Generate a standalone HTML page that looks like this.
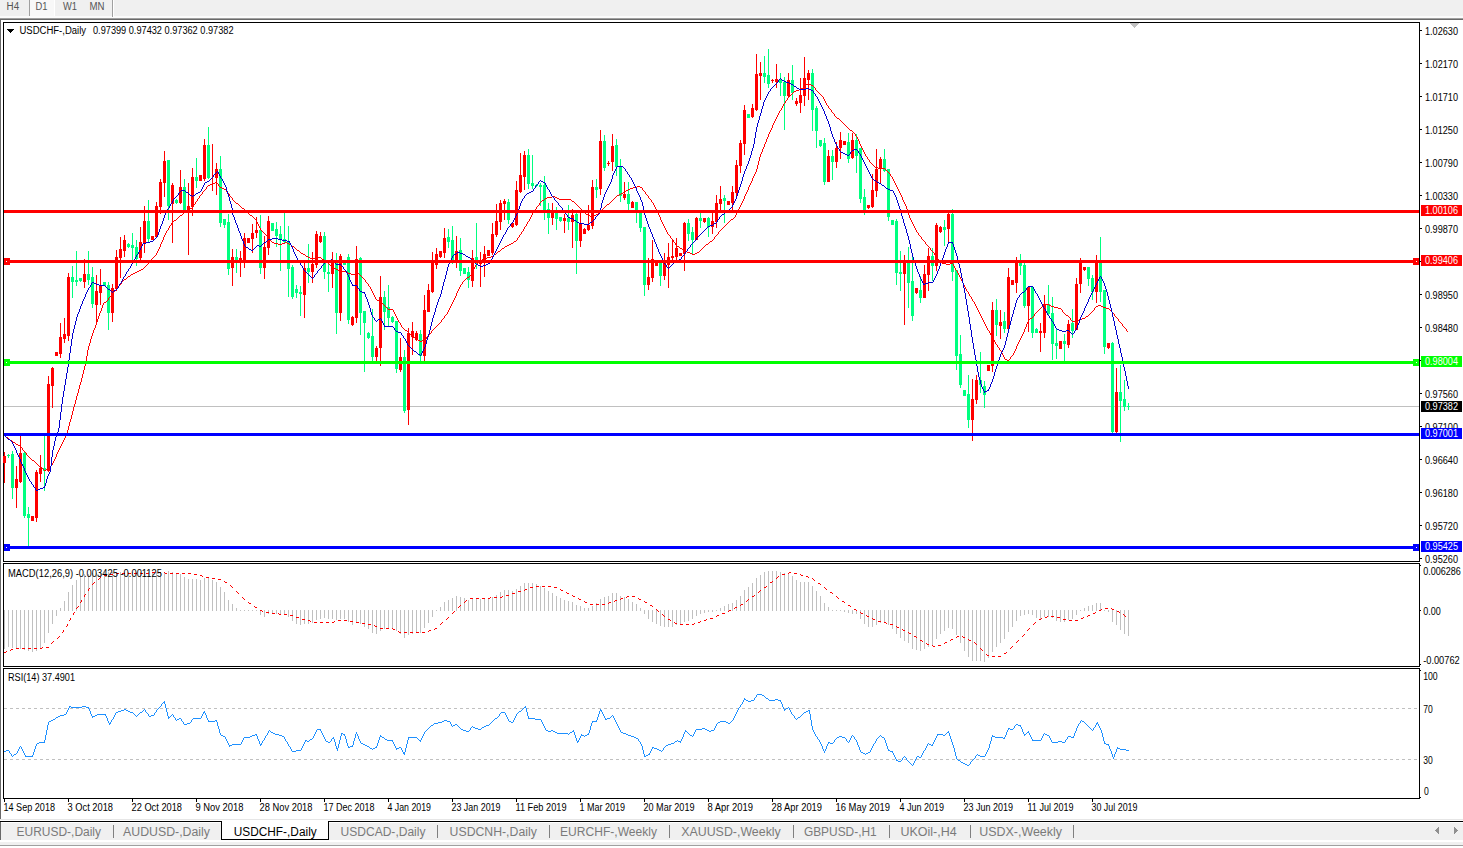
<!DOCTYPE html>
<html><head><meta charset="utf-8"><title>USDCHF-,Daily</title>
<style>
html,body{margin:0;padding:0;background:#fff;overflow:hidden}
body{width:1463px;height:848px;font-family:"Liberation Sans",sans-serif}
svg{display:block}
svg text{font-family:"Liberation Sans",sans-serif;white-space:pre}
.ce{shape-rendering:crispEdges}
</style></head><body>
<svg width="1463" height="848" viewBox="0 0 1463 848" shape-rendering="crispEdges">
<rect x="0" y="0" width="1463" height="848" fill="#fff"/>
<rect x="0" y="0" width="1463" height="16" fill="#f0f0f0"/>
<rect x="0" y="16" width="1463" height="2" fill="#fbfbfb"/>
<rect x="0" y="18" width="1463" height="1" fill="#a0a0a0"/>
<rect x="0" y="19" width="1463" height="1" fill="#696969"/>
<rect x="29" y="0" width="1" height="16" fill="#a0a0a0"/>
<rect x="30" y="0" width="24" height="16" fill="#f8f8f8"/>
<rect x="54" y="0" width="1" height="16" fill="#ffffff"/>
<rect x="112" y="0" width="1" height="17" fill="#a0a0a0"/>
<rect x="113" y="0" width="1" height="17" fill="#ffffff"/>
<text x="6.6" y="10" font-size="10" fill="#555" textLength="12.6" lengthAdjust="spacingAndGlyphs">H4</text>
<text x="35.5" y="10" font-size="10" fill="#555" textLength="12" lengthAdjust="spacingAndGlyphs">D1</text>
<text x="63" y="10" font-size="10" fill="#555" textLength="14" lengthAdjust="spacingAndGlyphs">W1</text>
<text x="89.5" y="10" font-size="10" fill="#555" textLength="15" lengthAdjust="spacingAndGlyphs">MN</text>
<rect x="0" y="19" width="1" height="800" fill="#696969"/>
<rect x="3" y="22" width="1417" height="1" fill="#000"/>
<rect x="3" y="561" width="1417" height="1" fill="#000"/>
<rect x="3" y="22" width="1" height="540" fill="#000"/>
<rect x="1419" y="22" width="1" height="540" fill="#000"/>
<rect x="3" y="563" width="1417" height="1" fill="#000"/>
<rect x="3" y="666" width="1417" height="1" fill="#000"/>
<rect x="3" y="563" width="1" height="104" fill="#000"/>
<rect x="1419" y="563" width="1" height="104" fill="#000"/>
<rect x="3" y="668" width="1417" height="1" fill="#000"/>
<rect x="3" y="798" width="1417" height="1" fill="#000"/>
<rect x="3" y="668" width="1" height="131" fill="#000"/>
<rect x="1419" y="668" width="1" height="131" fill="#000"/>
<rect x="1420" y="30" width="2" height="1" fill="#000"/>
<text x="1425" y="34.5" font-size="10" fill="#000" textLength="33" lengthAdjust="spacingAndGlyphs">1.02630</text>
<rect x="1420" y="63" width="2" height="1" fill="#000"/>
<text x="1425" y="67.5" font-size="10" fill="#000" textLength="33" lengthAdjust="spacingAndGlyphs">1.02170</text>
<rect x="1420" y="96" width="2" height="1" fill="#000"/>
<text x="1425" y="100.5" font-size="10" fill="#000" textLength="33" lengthAdjust="spacingAndGlyphs">1.01710</text>
<rect x="1420" y="129" width="2" height="1" fill="#000"/>
<text x="1425" y="133.5" font-size="10" fill="#000" textLength="33" lengthAdjust="spacingAndGlyphs">1.01250</text>
<rect x="1420" y="162" width="2" height="1" fill="#000"/>
<text x="1425" y="166.5" font-size="10" fill="#000" textLength="33" lengthAdjust="spacingAndGlyphs">1.00790</text>
<rect x="1420" y="195" width="2" height="1" fill="#000"/>
<text x="1425" y="199.5" font-size="10" fill="#000" textLength="33" lengthAdjust="spacingAndGlyphs">1.00330</text>
<rect x="1420" y="228" width="2" height="1" fill="#000"/>
<text x="1425" y="232.5" font-size="10" fill="#000" textLength="33" lengthAdjust="spacingAndGlyphs">0.99870</text>
<rect x="1420" y="261" width="2" height="1" fill="#000"/>
<text x="1425" y="265.5" font-size="10" fill="#000" textLength="33" lengthAdjust="spacingAndGlyphs">0.99410</text>
<rect x="1420" y="294" width="2" height="1" fill="#000"/>
<text x="1425" y="298.5" font-size="10" fill="#000" textLength="33" lengthAdjust="spacingAndGlyphs">0.98950</text>
<rect x="1420" y="327" width="2" height="1" fill="#000"/>
<text x="1425" y="331.5" font-size="10" fill="#000" textLength="33" lengthAdjust="spacingAndGlyphs">0.98480</text>
<rect x="1420" y="360" width="2" height="1" fill="#000"/>
<text x="1425" y="364.5" font-size="10" fill="#000" textLength="33" lengthAdjust="spacingAndGlyphs">0.98020</text>
<rect x="1420" y="393" width="2" height="1" fill="#000"/>
<text x="1425" y="397.5" font-size="10" fill="#000" textLength="33" lengthAdjust="spacingAndGlyphs">0.97560</text>
<rect x="1420" y="426" width="2" height="1" fill="#000"/>
<text x="1425" y="430.5" font-size="10" fill="#000" textLength="33" lengthAdjust="spacingAndGlyphs">0.97100</text>
<rect x="1420" y="459" width="2" height="1" fill="#000"/>
<text x="1425" y="463.5" font-size="10" fill="#000" textLength="33" lengthAdjust="spacingAndGlyphs">0.96640</text>
<rect x="1420" y="492" width="2" height="1" fill="#000"/>
<text x="1425" y="496.5" font-size="10" fill="#000" textLength="33" lengthAdjust="spacingAndGlyphs">0.96180</text>
<rect x="1420" y="525" width="2" height="1" fill="#000"/>
<text x="1425" y="529.5" font-size="10" fill="#000" textLength="33" lengthAdjust="spacingAndGlyphs">0.95720</text>
<rect x="1420" y="558" width="2" height="1" fill="#000"/>
<text x="1425" y="562.5" font-size="10" fill="#000" textLength="33" lengthAdjust="spacingAndGlyphs">0.95260</text>
<g id="main">
<rect x="4" y="406" width="1415" height="1" fill="#c0c0c0"/>
<rect x="4" y="452" width="1" height="31" fill="#ff0000"/>
<rect x="3" y="456" width="3" height="7" fill="#ff0000"/>
<rect x="8" y="454" width="1" height="4" fill="#00ff80"/>
<rect x="7" y="455" width="3" height="1" fill="#00ff80"/>
<rect x="12" y="451" width="1" height="48" fill="#00ff80"/>
<rect x="11" y="454" width="3" height="34" fill="#00ff80"/>
<rect x="16" y="466" width="1" height="42" fill="#ff0000"/>
<rect x="15" y="479" width="3" height="9" fill="#ff0000"/>
<rect x="20" y="435" width="1" height="48" fill="#ff0000"/>
<rect x="19" y="453" width="3" height="29" fill="#ff0000"/>
<rect x="24" y="452" width="1" height="66" fill="#00ff80"/>
<rect x="23" y="453" width="3" height="63" fill="#00ff80"/>
<rect x="28" y="507" width="1" height="40" fill="#00ff80"/>
<rect x="27" y="514" width="3" height="4" fill="#00ff80"/>
<rect x="32" y="516" width="1" height="5" fill="#ff0000"/>
<rect x="31" y="516" width="3" height="5" fill="#ff0000"/>
<rect x="36" y="470" width="1" height="52" fill="#ff0000"/>
<rect x="35" y="472" width="3" height="46" fill="#ff0000"/>
<rect x="40" y="455" width="1" height="27" fill="#ff0000"/>
<rect x="39" y="468" width="3" height="6" fill="#ff0000"/>
<rect x="44" y="436" width="1" height="55" fill="#00ff80"/>
<rect x="43" y="468" width="3" height="3" fill="#00ff80"/>
<rect x="48" y="376" width="1" height="96" fill="#ff0000"/>
<rect x="47" y="384" width="3" height="87" fill="#ff0000"/>
<rect x="52" y="367" width="1" height="41" fill="#ff0000"/>
<rect x="51" y="368" width="3" height="18" fill="#ff0000"/>
<rect x="56" y="352" width="1" height="4" fill="#ff0000"/>
<rect x="55" y="352" width="3" height="4" fill="#ff0000"/>
<rect x="60" y="323" width="1" height="35" fill="#ff0000"/>
<rect x="59" y="337" width="3" height="17" fill="#ff0000"/>
<rect x="64" y="318" width="1" height="25" fill="#ff0000"/>
<rect x="63" y="334" width="3" height="5" fill="#ff0000"/>
<rect x="68" y="273" width="1" height="68" fill="#ff0000"/>
<rect x="67" y="277" width="3" height="59" fill="#ff0000"/>
<rect x="72" y="266" width="1" height="32" fill="#00ff80"/>
<rect x="71" y="277" width="3" height="5" fill="#00ff80"/>
<rect x="76" y="251" width="1" height="35" fill="#00ff80"/>
<rect x="75" y="280" width="3" height="2" fill="#00ff80"/>
<rect x="80" y="278" width="1" height="4" fill="#00ff80"/>
<rect x="79" y="278" width="3" height="3" fill="#00ff80"/>
<rect x="84" y="259" width="1" height="29" fill="#ff0000"/>
<rect x="83" y="274" width="3" height="8" fill="#ff0000"/>
<rect x="88" y="251" width="1" height="34" fill="#00ff80"/>
<rect x="87" y="274" width="3" height="6" fill="#00ff80"/>
<rect x="92" y="267" width="1" height="41" fill="#00ff80"/>
<rect x="91" y="277" width="3" height="27" fill="#00ff80"/>
<rect x="96" y="275" width="1" height="47" fill="#ff0000"/>
<rect x="95" y="291" width="3" height="14" fill="#ff0000"/>
<rect x="100" y="269" width="1" height="36" fill="#ff0000"/>
<rect x="99" y="286" width="3" height="7" fill="#ff0000"/>
<rect x="104" y="282" width="1" height="4" fill="#00ff80"/>
<rect x="103" y="282" width="3" height="4" fill="#00ff80"/>
<rect x="108" y="282" width="1" height="48" fill="#00ff80"/>
<rect x="107" y="285" width="3" height="28" fill="#00ff80"/>
<rect x="112" y="284" width="1" height="38" fill="#ff0000"/>
<rect x="111" y="288" width="3" height="25" fill="#ff0000"/>
<rect x="116" y="250" width="1" height="41" fill="#ff0000"/>
<rect x="115" y="257" width="3" height="32" fill="#ff0000"/>
<rect x="120" y="237" width="1" height="41" fill="#ff0000"/>
<rect x="119" y="249" width="3" height="9" fill="#ff0000"/>
<rect x="124" y="235" width="1" height="22" fill="#ff0000"/>
<rect x="123" y="240" width="3" height="11" fill="#ff0000"/>
<rect x="128" y="243" width="1" height="5" fill="#00ff80"/>
<rect x="127" y="244" width="3" height="3" fill="#00ff80"/>
<rect x="132" y="233" width="1" height="27" fill="#00ff80"/>
<rect x="131" y="245" width="3" height="3" fill="#00ff80"/>
<rect x="136" y="240" width="1" height="26" fill="#00ff80"/>
<rect x="135" y="247" width="3" height="12" fill="#00ff80"/>
<rect x="140" y="227" width="1" height="34" fill="#ff0000"/>
<rect x="139" y="242" width="3" height="16" fill="#ff0000"/>
<rect x="144" y="206" width="1" height="47" fill="#ff0000"/>
<rect x="143" y="221" width="3" height="22" fill="#ff0000"/>
<rect x="148" y="200" width="1" height="43" fill="#00ff80"/>
<rect x="147" y="221" width="3" height="18" fill="#00ff80"/>
<rect x="152" y="236" width="1" height="4" fill="#ff0000"/>
<rect x="151" y="236" width="3" height="4" fill="#ff0000"/>
<rect x="156" y="202" width="1" height="36" fill="#ff0000"/>
<rect x="155" y="206" width="3" height="31" fill="#ff0000"/>
<rect x="160" y="179" width="1" height="35" fill="#ff0000"/>
<rect x="159" y="182" width="3" height="25" fill="#ff0000"/>
<rect x="164" y="151" width="1" height="46" fill="#ff0000"/>
<rect x="163" y="161" width="3" height="22" fill="#ff0000"/>
<rect x="168" y="160" width="1" height="60" fill="#00ff80"/>
<rect x="167" y="160" width="3" height="46" fill="#00ff80"/>
<rect x="172" y="183" width="1" height="60" fill="#ff0000"/>
<rect x="171" y="185" width="3" height="19" fill="#ff0000"/>
<rect x="176" y="199" width="1" height="5" fill="#00ff80"/>
<rect x="175" y="200" width="3" height="3" fill="#00ff80"/>
<rect x="180" y="170" width="1" height="34" fill="#ff0000"/>
<rect x="179" y="187" width="3" height="16" fill="#ff0000"/>
<rect x="184" y="179" width="1" height="32" fill="#00ff80"/>
<rect x="183" y="187" width="3" height="24" fill="#00ff80"/>
<rect x="188" y="183" width="1" height="72" fill="#ff0000"/>
<rect x="187" y="206" width="3" height="5" fill="#ff0000"/>
<rect x="192" y="168" width="1" height="48" fill="#ff0000"/>
<rect x="191" y="177" width="3" height="30" fill="#ff0000"/>
<rect x="196" y="158" width="1" height="30" fill="#00ff80"/>
<rect x="195" y="177" width="3" height="4" fill="#00ff80"/>
<rect x="200" y="175" width="1" height="6" fill="#ff0000"/>
<rect x="199" y="175" width="3" height="6" fill="#ff0000"/>
<rect x="204" y="139" width="1" height="42" fill="#ff0000"/>
<rect x="203" y="145" width="3" height="34" fill="#ff0000"/>
<rect x="208" y="127" width="1" height="52" fill="#00ff80"/>
<rect x="207" y="145" width="3" height="33" fill="#00ff80"/>
<rect x="212" y="144" width="1" height="47" fill="#ff0000"/>
<rect x="216" y="163" width="1" height="32" fill="#ff0000"/>
<rect x="215" y="169" width="3" height="9" fill="#ff0000"/>
<rect x="220" y="156" width="1" height="71" fill="#00ff80"/>
<rect x="219" y="169" width="3" height="54" fill="#00ff80"/>
<rect x="224" y="219" width="1" height="9" fill="#00ff80"/>
<rect x="223" y="219" width="3" height="6" fill="#00ff80"/>
<rect x="228" y="214" width="1" height="61" fill="#00ff80"/>
<rect x="227" y="222" width="3" height="47" fill="#00ff80"/>
<rect x="232" y="249" width="1" height="37" fill="#ff0000"/>
<rect x="231" y="257" width="3" height="11" fill="#ff0000"/>
<rect x="236" y="249" width="1" height="24" fill="#00ff80"/>
<rect x="235" y="257" width="3" height="4" fill="#00ff80"/>
<rect x="240" y="251" width="1" height="26" fill="#ff0000"/>
<rect x="239" y="258" width="3" height="5" fill="#ff0000"/>
<rect x="244" y="233" width="1" height="35" fill="#ff0000"/>
<rect x="243" y="238" width="3" height="22" fill="#ff0000"/>
<rect x="248" y="238" width="1" height="5" fill="#ff0000"/>
<rect x="247" y="238" width="3" height="5" fill="#ff0000"/>
<rect x="252" y="224" width="1" height="29" fill="#ff0000"/>
<rect x="251" y="233" width="3" height="6" fill="#ff0000"/>
<rect x="256" y="217" width="1" height="21" fill="#ff0000"/>
<rect x="255" y="230" width="3" height="3" fill="#ff0000"/>
<rect x="260" y="215" width="1" height="59" fill="#00ff80"/>
<rect x="259" y="230" width="3" height="38" fill="#00ff80"/>
<rect x="264" y="236" width="1" height="43" fill="#ff0000"/>
<rect x="263" y="247" width="3" height="21" fill="#ff0000"/>
<rect x="268" y="216" width="1" height="39" fill="#ff0000"/>
<rect x="267" y="221" width="3" height="27" fill="#ff0000"/>
<rect x="272" y="223" width="1" height="8" fill="#00ff80"/>
<rect x="271" y="223" width="3" height="8" fill="#00ff80"/>
<rect x="276" y="222" width="1" height="25" fill="#00ff80"/>
<rect x="275" y="229" width="3" height="7" fill="#00ff80"/>
<rect x="280" y="226" width="1" height="45" fill="#00ff80"/>
<rect x="279" y="234" width="3" height="5" fill="#00ff80"/>
<rect x="284" y="213" width="1" height="30" fill="#00ff80"/>
<rect x="283" y="239" width="3" height="3" fill="#00ff80"/>
<rect x="288" y="226" width="1" height="71" fill="#00ff80"/>
<rect x="287" y="241" width="3" height="28" fill="#00ff80"/>
<rect x="292" y="265" width="1" height="34" fill="#00ff80"/>
<rect x="291" y="267" width="3" height="30" fill="#00ff80"/>
<rect x="296" y="285" width="1" height="13" fill="#00ff80"/>
<rect x="295" y="289" width="3" height="4" fill="#00ff80"/>
<rect x="300" y="286" width="1" height="30" fill="#00ff80"/>
<rect x="299" y="292" width="3" height="2" fill="#00ff80"/>
<rect x="304" y="262" width="1" height="56" fill="#ff0000"/>
<rect x="303" y="268" width="3" height="27" fill="#ff0000"/>
<rect x="308" y="244" width="1" height="39" fill="#00ff80"/>
<rect x="307" y="268" width="3" height="4" fill="#00ff80"/>
<rect x="312" y="252" width="1" height="31" fill="#ff0000"/>
<rect x="311" y="264" width="3" height="8" fill="#ff0000"/>
<rect x="316" y="231" width="1" height="37" fill="#ff0000"/>
<rect x="315" y="234" width="3" height="31" fill="#ff0000"/>
<rect x="320" y="232" width="1" height="11" fill="#ff0000"/>
<rect x="319" y="236" width="3" height="6" fill="#ff0000"/>
<rect x="324" y="232" width="1" height="47" fill="#00ff80"/>
<rect x="323" y="236" width="3" height="36" fill="#00ff80"/>
<rect x="328" y="264" width="1" height="28" fill="#00ff80"/>
<rect x="327" y="272" width="3" height="2" fill="#00ff80"/>
<rect x="332" y="252" width="1" height="36" fill="#ff0000"/>
<rect x="331" y="260" width="3" height="14" fill="#ff0000"/>
<rect x="336" y="253" width="1" height="81" fill="#00ff80"/>
<rect x="335" y="260" width="3" height="53" fill="#00ff80"/>
<rect x="340" y="254" width="1" height="67" fill="#ff0000"/>
<rect x="339" y="256" width="3" height="57" fill="#ff0000"/>
<rect x="344" y="262" width="1" height="3" fill="#00ff80"/>
<rect x="343" y="262" width="3" height="3" fill="#00ff80"/>
<rect x="348" y="254" width="1" height="70" fill="#00ff80"/>
<rect x="347" y="257" width="3" height="63" fill="#00ff80"/>
<rect x="352" y="316" width="1" height="10" fill="#ff0000"/>
<rect x="351" y="317" width="3" height="8" fill="#ff0000"/>
<rect x="356" y="246" width="1" height="77" fill="#ff0000"/>
<rect x="355" y="259" width="3" height="59" fill="#ff0000"/>
<rect x="360" y="257" width="1" height="78" fill="#00ff80"/>
<rect x="359" y="258" width="3" height="55" fill="#00ff80"/>
<rect x="364" y="311" width="1" height="61" fill="#00ff80"/>
<rect x="363" y="311" width="3" height="12" fill="#00ff80"/>
<rect x="368" y="332" width="1" height="7" fill="#00ff80"/>
<rect x="367" y="333" width="3" height="5" fill="#00ff80"/>
<rect x="372" y="309" width="1" height="52" fill="#00ff80"/>
<rect x="371" y="336" width="3" height="21" fill="#00ff80"/>
<rect x="376" y="346" width="1" height="15" fill="#ff0000"/>
<rect x="375" y="348" width="3" height="9" fill="#ff0000"/>
<rect x="380" y="276" width="1" height="90" fill="#ff0000"/>
<rect x="379" y="297" width="3" height="51" fill="#ff0000"/>
<rect x="384" y="291" width="1" height="39" fill="#00ff80"/>
<rect x="383" y="297" width="3" height="15" fill="#00ff80"/>
<rect x="388" y="285" width="1" height="41" fill="#00ff80"/>
<rect x="387" y="307" width="3" height="11" fill="#00ff80"/>
<rect x="392" y="316" width="1" height="7" fill="#00ff80"/>
<rect x="391" y="317" width="3" height="5" fill="#00ff80"/>
<rect x="396" y="321" width="1" height="52" fill="#00ff80"/>
<rect x="395" y="321" width="3" height="48" fill="#00ff80"/>
<rect x="400" y="338" width="1" height="34" fill="#ff0000"/>
<rect x="399" y="357" width="3" height="13" fill="#ff0000"/>
<rect x="404" y="350" width="1" height="63" fill="#00ff80"/>
<rect x="403" y="357" width="3" height="54" fill="#00ff80"/>
<rect x="408" y="328" width="1" height="97" fill="#ff0000"/>
<rect x="407" y="333" width="3" height="77" fill="#ff0000"/>
<rect x="412" y="322" width="1" height="33" fill="#ff0000"/>
<rect x="411" y="331" width="3" height="6" fill="#ff0000"/>
<rect x="416" y="331" width="1" height="10" fill="#ff0000"/>
<rect x="415" y="333" width="3" height="7" fill="#ff0000"/>
<rect x="420" y="330" width="1" height="32" fill="#00ff80"/>
<rect x="419" y="334" width="3" height="22" fill="#00ff80"/>
<rect x="424" y="295" width="1" height="67" fill="#ff0000"/>
<rect x="423" y="310" width="3" height="46" fill="#ff0000"/>
<rect x="428" y="284" width="1" height="28" fill="#ff0000"/>
<rect x="427" y="290" width="3" height="22" fill="#ff0000"/>
<rect x="432" y="252" width="1" height="41" fill="#ff0000"/>
<rect x="431" y="261" width="3" height="31" fill="#ff0000"/>
<rect x="436" y="248" width="1" height="21" fill="#ff0000"/>
<rect x="435" y="254" width="3" height="11" fill="#ff0000"/>
<rect x="440" y="251" width="1" height="7" fill="#ff0000"/>
<rect x="439" y="251" width="3" height="6" fill="#ff0000"/>
<rect x="444" y="228" width="1" height="30" fill="#ff0000"/>
<rect x="443" y="238" width="3" height="15" fill="#ff0000"/>
<rect x="448" y="229" width="1" height="19" fill="#00ff80"/>
<rect x="447" y="237" width="3" height="5" fill="#00ff80"/>
<rect x="452" y="226" width="1" height="38" fill="#00ff80"/>
<rect x="451" y="240" width="3" height="23" fill="#00ff80"/>
<rect x="456" y="236" width="1" height="32" fill="#ff0000"/>
<rect x="455" y="251" width="3" height="12" fill="#ff0000"/>
<rect x="460" y="238" width="1" height="38" fill="#00ff80"/>
<rect x="459" y="250" width="3" height="21" fill="#00ff80"/>
<rect x="464" y="268" width="1" height="6" fill="#00ff80"/>
<rect x="463" y="268" width="3" height="6" fill="#00ff80"/>
<rect x="468" y="267" width="1" height="21" fill="#00ff80"/>
<rect x="467" y="272" width="3" height="8" fill="#00ff80"/>
<rect x="472" y="250" width="1" height="37" fill="#ff0000"/>
<rect x="471" y="258" width="3" height="23" fill="#ff0000"/>
<rect x="476" y="223" width="1" height="46" fill="#00ff80"/>
<rect x="475" y="257" width="3" height="5" fill="#00ff80"/>
<rect x="480" y="252" width="1" height="35" fill="#ff0000"/>
<rect x="479" y="260" width="3" height="4" fill="#ff0000"/>
<rect x="484" y="246" width="1" height="31" fill="#ff0000"/>
<rect x="483" y="254" width="3" height="9" fill="#ff0000"/>
<rect x="488" y="250" width="1" height="6" fill="#ff0000"/>
<rect x="487" y="250" width="3" height="6" fill="#ff0000"/>
<rect x="492" y="223" width="1" height="32" fill="#ff0000"/>
<rect x="491" y="234" width="3" height="19" fill="#ff0000"/>
<rect x="496" y="204" width="1" height="33" fill="#ff0000"/>
<rect x="495" y="221" width="3" height="14" fill="#ff0000"/>
<rect x="500" y="200" width="1" height="30" fill="#ff0000"/>
<rect x="499" y="203" width="3" height="19" fill="#ff0000"/>
<rect x="504" y="199" width="1" height="21" fill="#ff0000"/>
<rect x="503" y="201" width="3" height="3" fill="#ff0000"/>
<rect x="508" y="199" width="1" height="25" fill="#00ff80"/>
<rect x="507" y="202" width="3" height="18" fill="#00ff80"/>
<rect x="512" y="223" width="1" height="5" fill="#ff0000"/>
<rect x="511" y="223" width="3" height="4" fill="#ff0000"/>
<rect x="516" y="181" width="1" height="45" fill="#ff0000"/>
<rect x="515" y="190" width="3" height="35" fill="#ff0000"/>
<rect x="520" y="153" width="1" height="40" fill="#ff0000"/>
<rect x="519" y="175" width="3" height="17" fill="#ff0000"/>
<rect x="524" y="151" width="1" height="39" fill="#ff0000"/>
<rect x="523" y="155" width="3" height="22" fill="#ff0000"/>
<rect x="528" y="149" width="1" height="40" fill="#00ff80"/>
<rect x="527" y="155" width="3" height="29" fill="#00ff80"/>
<rect x="532" y="155" width="1" height="34" fill="#00ff80"/>
<rect x="531" y="183" width="3" height="3" fill="#00ff80"/>
<rect x="536" y="184" width="1" height="3" fill="#00ff80"/>
<rect x="535" y="185" width="3" height="1" fill="#00ff80"/>
<rect x="540" y="183" width="1" height="23" fill="#00ff80"/>
<rect x="539" y="185" width="3" height="2" fill="#00ff80"/>
<rect x="544" y="176" width="1" height="44" fill="#00ff80"/>
<rect x="543" y="185" width="3" height="26" fill="#00ff80"/>
<rect x="548" y="203" width="1" height="31" fill="#00ff80"/>
<rect x="547" y="209" width="3" height="9" fill="#00ff80"/>
<rect x="552" y="203" width="1" height="22" fill="#ff0000"/>
<rect x="551" y="213" width="3" height="5" fill="#ff0000"/>
<rect x="556" y="207" width="1" height="23" fill="#00ff80"/>
<rect x="555" y="213" width="3" height="6" fill="#00ff80"/>
<rect x="560" y="217" width="1" height="5" fill="#00ff80"/>
<rect x="559" y="217" width="3" height="4" fill="#00ff80"/>
<rect x="564" y="214" width="1" height="19" fill="#ff0000"/>
<rect x="563" y="218" width="3" height="3" fill="#ff0000"/>
<rect x="568" y="205" width="1" height="25" fill="#00ff80"/>
<rect x="567" y="218" width="3" height="4" fill="#00ff80"/>
<rect x="572" y="209" width="1" height="39" fill="#ff0000"/>
<rect x="571" y="215" width="3" height="7" fill="#ff0000"/>
<rect x="576" y="213" width="1" height="61" fill="#00ff80"/>
<rect x="575" y="214" width="3" height="27" fill="#00ff80"/>
<rect x="580" y="212" width="1" height="35" fill="#ff0000"/>
<rect x="579" y="223" width="3" height="18" fill="#ff0000"/>
<rect x="584" y="228" width="1" height="6" fill="#ff0000"/>
<rect x="583" y="229" width="3" height="5" fill="#ff0000"/>
<rect x="588" y="205" width="1" height="26" fill="#ff0000"/>
<rect x="587" y="225" width="3" height="5" fill="#ff0000"/>
<rect x="592" y="180" width="1" height="49" fill="#ff0000"/>
<rect x="591" y="187" width="3" height="39" fill="#ff0000"/>
<rect x="596" y="179" width="1" height="19" fill="#00ff80"/>
<rect x="595" y="187" width="3" height="3" fill="#00ff80"/>
<rect x="600" y="130" width="1" height="65" fill="#ff0000"/>
<rect x="599" y="141" width="3" height="48" fill="#ff0000"/>
<rect x="604" y="135" width="1" height="36" fill="#00ff80"/>
<rect x="603" y="141" width="3" height="27" fill="#00ff80"/>
<rect x="608" y="161" width="1" height="5" fill="#ff0000"/>
<rect x="607" y="163" width="3" height="1" fill="#ff0000"/>
<rect x="612" y="134" width="1" height="37" fill="#ff0000"/>
<rect x="611" y="146" width="3" height="16" fill="#ff0000"/>
<rect x="616" y="139" width="1" height="37" fill="#00ff80"/>
<rect x="615" y="145" width="3" height="22" fill="#00ff80"/>
<rect x="620" y="159" width="1" height="43" fill="#00ff80"/>
<rect x="619" y="166" width="3" height="30" fill="#00ff80"/>
<rect x="624" y="182" width="1" height="18" fill="#ff0000"/>
<rect x="623" y="194" width="3" height="4" fill="#ff0000"/>
<rect x="628" y="182" width="1" height="29" fill="#00ff80"/>
<rect x="627" y="194" width="3" height="10" fill="#00ff80"/>
<rect x="632" y="201" width="1" height="7" fill="#ff0000"/>
<rect x="631" y="202" width="3" height="6" fill="#ff0000"/>
<rect x="636" y="202" width="1" height="21" fill="#00ff80"/>
<rect x="635" y="202" width="3" height="9" fill="#00ff80"/>
<rect x="640" y="212" width="1" height="20" fill="#00ff80"/>
<rect x="639" y="212" width="3" height="16" fill="#00ff80"/>
<rect x="644" y="227" width="1" height="69" fill="#00ff80"/>
<rect x="643" y="227" width="3" height="58" fill="#00ff80"/>
<rect x="648" y="258" width="1" height="32" fill="#ff0000"/>
<rect x="647" y="277" width="3" height="8" fill="#ff0000"/>
<rect x="652" y="240" width="1" height="42" fill="#ff0000"/>
<rect x="651" y="259" width="3" height="19" fill="#ff0000"/>
<rect x="656" y="262" width="1" height="4" fill="#ff0000"/>
<rect x="655" y="262" width="3" height="4" fill="#ff0000"/>
<rect x="660" y="262" width="1" height="24" fill="#00ff80"/>
<rect x="659" y="262" width="3" height="14" fill="#00ff80"/>
<rect x="664" y="253" width="1" height="27" fill="#ff0000"/>
<rect x="663" y="263" width="3" height="13" fill="#ff0000"/>
<rect x="668" y="243" width="1" height="45" fill="#ff0000"/>
<rect x="667" y="257" width="3" height="8" fill="#ff0000"/>
<rect x="672" y="239" width="1" height="22" fill="#ff0000"/>
<rect x="671" y="256" width="3" height="2" fill="#ff0000"/>
<rect x="676" y="238" width="1" height="23" fill="#ff0000"/>
<rect x="675" y="248" width="3" height="9" fill="#ff0000"/>
<rect x="680" y="253" width="1" height="3" fill="#ff0000"/>
<rect x="679" y="253" width="3" height="3" fill="#ff0000"/>
<rect x="684" y="222" width="1" height="49" fill="#ff0000"/>
<rect x="683" y="223" width="3" height="31" fill="#ff0000"/>
<rect x="688" y="219" width="1" height="22" fill="#00ff80"/>
<rect x="687" y="223" width="3" height="11" fill="#00ff80"/>
<rect x="692" y="227" width="1" height="27" fill="#00ff80"/>
<rect x="691" y="232" width="3" height="8" fill="#00ff80"/>
<rect x="696" y="217" width="1" height="23" fill="#ff0000"/>
<rect x="695" y="218" width="3" height="22" fill="#ff0000"/>
<rect x="700" y="213" width="1" height="15" fill="#00ff80"/>
<rect x="699" y="218" width="3" height="3" fill="#00ff80"/>
<rect x="704" y="218" width="1" height="5" fill="#ff0000"/>
<rect x="703" y="218" width="3" height="4" fill="#ff0000"/>
<rect x="708" y="217" width="1" height="20" fill="#00ff80"/>
<rect x="707" y="218" width="3" height="9" fill="#00ff80"/>
<rect x="712" y="213" width="1" height="21" fill="#ff0000"/>
<rect x="711" y="221" width="3" height="6" fill="#ff0000"/>
<rect x="716" y="195" width="1" height="33" fill="#ff0000"/>
<rect x="715" y="203" width="3" height="19" fill="#ff0000"/>
<rect x="720" y="186" width="1" height="26" fill="#ff0000"/>
<rect x="719" y="199" width="3" height="5" fill="#ff0000"/>
<rect x="724" y="195" width="1" height="28" fill="#00ff80"/>
<rect x="723" y="198" width="3" height="3" fill="#00ff80"/>
<rect x="728" y="201" width="1" height="4" fill="#ff0000"/>
<rect x="727" y="201" width="3" height="4" fill="#ff0000"/>
<rect x="732" y="186" width="1" height="24" fill="#ff0000"/>
<rect x="731" y="192" width="3" height="11" fill="#ff0000"/>
<rect x="736" y="160" width="1" height="36" fill="#ff0000"/>
<rect x="735" y="165" width="3" height="28" fill="#ff0000"/>
<rect x="740" y="140" width="1" height="33" fill="#ff0000"/>
<rect x="739" y="143" width="3" height="23" fill="#ff0000"/>
<rect x="744" y="105" width="1" height="50" fill="#ff0000"/>
<rect x="743" y="110" width="3" height="34" fill="#ff0000"/>
<rect x="748" y="114" width="1" height="4" fill="#00ff80"/>
<rect x="747" y="114" width="3" height="4" fill="#00ff80"/>
<rect x="752" y="104" width="1" height="14" fill="#ff0000"/>
<rect x="751" y="108" width="3" height="9" fill="#ff0000"/>
<rect x="756" y="54" width="1" height="57" fill="#ff0000"/>
<rect x="755" y="74" width="3" height="36" fill="#ff0000"/>
<rect x="760" y="62" width="1" height="38" fill="#ff0000"/>
<rect x="759" y="73" width="3" height="3" fill="#ff0000"/>
<rect x="764" y="56" width="1" height="27" fill="#00ff80"/>
<rect x="763" y="73" width="3" height="4" fill="#00ff80"/>
<rect x="768" y="49" width="1" height="39" fill="#00ff80"/>
<rect x="767" y="75" width="3" height="9" fill="#00ff80"/>
<rect x="772" y="79" width="1" height="4" fill="#ff0000"/>
<rect x="771" y="80" width="3" height="1" fill="#ff0000"/>
<rect x="776" y="64" width="1" height="24" fill="#ff0000"/>
<rect x="775" y="79" width="3" height="3" fill="#ff0000"/>
<rect x="780" y="73" width="1" height="23" fill="#00ff80"/>
<rect x="779" y="79" width="3" height="4" fill="#00ff80"/>
<rect x="784" y="77" width="1" height="53" fill="#00ff80"/>
<rect x="783" y="82" width="3" height="14" fill="#00ff80"/>
<rect x="788" y="73" width="1" height="24" fill="#ff0000"/>
<rect x="787" y="80" width="3" height="16" fill="#ff0000"/>
<rect x="792" y="65" width="1" height="35" fill="#00ff80"/>
<rect x="791" y="80" width="3" height="13" fill="#00ff80"/>
<rect x="796" y="98" width="1" height="8" fill="#ff0000"/>
<rect x="795" y="101" width="3" height="3" fill="#ff0000"/>
<rect x="800" y="78" width="1" height="35" fill="#ff0000"/>
<rect x="799" y="95" width="3" height="8" fill="#ff0000"/>
<rect x="804" y="57" width="1" height="49" fill="#ff0000"/>
<rect x="803" y="78" width="3" height="18" fill="#ff0000"/>
<rect x="808" y="70" width="1" height="30" fill="#ff0000"/>
<rect x="807" y="73" width="3" height="7" fill="#ff0000"/>
<rect x="812" y="69" width="1" height="62" fill="#00ff80"/>
<rect x="811" y="73" width="3" height="37" fill="#00ff80"/>
<rect x="816" y="106" width="1" height="42" fill="#00ff80"/>
<rect x="815" y="108" width="3" height="23" fill="#00ff80"/>
<rect x="820" y="140" width="1" height="7" fill="#00ff80"/>
<rect x="819" y="140" width="3" height="6" fill="#00ff80"/>
<rect x="824" y="138" width="1" height="47" fill="#00ff80"/>
<rect x="823" y="143" width="3" height="39" fill="#00ff80"/>
<rect x="828" y="150" width="1" height="32" fill="#ff0000"/>
<rect x="827" y="156" width="3" height="26" fill="#ff0000"/>
<rect x="832" y="150" width="1" height="30" fill="#00ff80"/>
<rect x="831" y="156" width="3" height="6" fill="#00ff80"/>
<rect x="836" y="142" width="1" height="26" fill="#ff0000"/>
<rect x="835" y="148" width="3" height="14" fill="#ff0000"/>
<rect x="840" y="132" width="1" height="27" fill="#ff0000"/>
<rect x="839" y="140" width="3" height="8" fill="#ff0000"/>
<rect x="844" y="141" width="1" height="4" fill="#ff0000"/>
<rect x="843" y="141" width="3" height="4" fill="#ff0000"/>
<rect x="848" y="133" width="1" height="30" fill="#00ff80"/>
<rect x="847" y="142" width="3" height="17" fill="#00ff80"/>
<rect x="852" y="133" width="1" height="26" fill="#ff0000"/>
<rect x="851" y="140" width="3" height="18" fill="#ff0000"/>
<rect x="856" y="134" width="1" height="39" fill="#00ff80"/>
<rect x="855" y="140" width="3" height="16" fill="#00ff80"/>
<rect x="860" y="148" width="1" height="55" fill="#00ff80"/>
<rect x="859" y="148" width="3" height="51" fill="#00ff80"/>
<rect x="864" y="189" width="1" height="26" fill="#00ff80"/>
<rect x="863" y="197" width="3" height="14" fill="#00ff80"/>
<rect x="868" y="205" width="1" height="4" fill="#ff0000"/>
<rect x="867" y="205" width="3" height="3" fill="#ff0000"/>
<rect x="872" y="174" width="1" height="34" fill="#ff0000"/>
<rect x="871" y="190" width="3" height="17" fill="#ff0000"/>
<rect x="876" y="149" width="1" height="48" fill="#ff0000"/>
<rect x="875" y="169" width="3" height="22" fill="#ff0000"/>
<rect x="880" y="157" width="1" height="27" fill="#ff0000"/>
<rect x="879" y="159" width="3" height="10" fill="#ff0000"/>
<rect x="884" y="149" width="1" height="23" fill="#00ff80"/>
<rect x="883" y="159" width="3" height="12" fill="#00ff80"/>
<rect x="888" y="169" width="1" height="52" fill="#00ff80"/>
<rect x="887" y="169" width="3" height="48" fill="#00ff80"/>
<rect x="892" y="220" width="1" height="5" fill="#00ff80"/>
<rect x="891" y="220" width="3" height="5" fill="#00ff80"/>
<rect x="896" y="219" width="1" height="66" fill="#00ff80"/>
<rect x="895" y="221" width="3" height="52" fill="#00ff80"/>
<rect x="900" y="251" width="1" height="40" fill="#00ff80"/>
<rect x="899" y="272" width="3" height="2" fill="#00ff80"/>
<rect x="904" y="255" width="1" height="70" fill="#ff0000"/>
<rect x="903" y="263" width="3" height="11" fill="#ff0000"/>
<rect x="908" y="247" width="1" height="61" fill="#00ff80"/>
<rect x="907" y="262" width="3" height="21" fill="#00ff80"/>
<rect x="912" y="255" width="1" height="66" fill="#00ff80"/>
<rect x="911" y="281" width="3" height="35" fill="#00ff80"/>
<rect x="916" y="288" width="1" height="6" fill="#ff0000"/>
<rect x="915" y="288" width="3" height="5" fill="#ff0000"/>
<rect x="920" y="276" width="1" height="27" fill="#00ff80"/>
<rect x="919" y="290" width="3" height="8" fill="#00ff80"/>
<rect x="924" y="265" width="1" height="33" fill="#ff0000"/>
<rect x="923" y="274" width="3" height="24" fill="#ff0000"/>
<rect x="928" y="248" width="1" height="43" fill="#ff0000"/>
<rect x="927" y="256" width="3" height="19" fill="#ff0000"/>
<rect x="932" y="248" width="1" height="33" fill="#00ff80"/>
<rect x="931" y="256" width="3" height="10" fill="#00ff80"/>
<rect x="936" y="223" width="1" height="48" fill="#ff0000"/>
<rect x="935" y="225" width="3" height="41" fill="#ff0000"/>
<rect x="940" y="226" width="1" height="7" fill="#ff0000"/>
<rect x="939" y="227" width="3" height="5" fill="#ff0000"/>
<rect x="944" y="220" width="1" height="26" fill="#00ff80"/>
<rect x="943" y="227" width="3" height="3" fill="#00ff80"/>
<rect x="948" y="211" width="1" height="32" fill="#ff0000"/>
<rect x="947" y="214" width="3" height="15" fill="#ff0000"/>
<rect x="952" y="209" width="1" height="72" fill="#00ff80"/>
<rect x="951" y="214" width="3" height="58" fill="#00ff80"/>
<rect x="956" y="270" width="1" height="100" fill="#00ff80"/>
<rect x="955" y="270" width="3" height="86" fill="#00ff80"/>
<rect x="960" y="335" width="1" height="53" fill="#00ff80"/>
<rect x="959" y="354" width="3" height="31" fill="#00ff80"/>
<rect x="964" y="390" width="1" height="6" fill="#00ff80"/>
<rect x="963" y="390" width="3" height="6" fill="#00ff80"/>
<rect x="968" y="375" width="1" height="53" fill="#00ff80"/>
<rect x="967" y="394" width="3" height="26" fill="#00ff80"/>
<rect x="972" y="379" width="1" height="62" fill="#ff0000"/>
<rect x="971" y="399" width="3" height="21" fill="#ff0000"/>
<rect x="976" y="375" width="1" height="29" fill="#ff0000"/>
<rect x="975" y="380" width="3" height="20" fill="#ff0000"/>
<rect x="980" y="352" width="1" height="41" fill="#00ff80"/>
<rect x="979" y="380" width="3" height="5" fill="#00ff80"/>
<rect x="984" y="381" width="1" height="27" fill="#00ff80"/>
<rect x="983" y="386" width="3" height="9" fill="#00ff80"/>
<rect x="988" y="365" width="1" height="6" fill="#ff0000"/>
<rect x="987" y="365" width="3" height="6" fill="#ff0000"/>
<rect x="992" y="302" width="1" height="70" fill="#ff0000"/>
<rect x="991" y="310" width="3" height="56" fill="#ff0000"/>
<rect x="996" y="299" width="1" height="37" fill="#00ff80"/>
<rect x="995" y="310" width="3" height="15" fill="#00ff80"/>
<rect x="1000" y="310" width="1" height="29" fill="#ff0000"/>
<rect x="999" y="322" width="3" height="4" fill="#ff0000"/>
<rect x="1004" y="312" width="1" height="21" fill="#00ff80"/>
<rect x="1003" y="321" width="3" height="8" fill="#00ff80"/>
<rect x="1008" y="268" width="1" height="64" fill="#ff0000"/>
<rect x="1007" y="277" width="3" height="52" fill="#ff0000"/>
<rect x="1012" y="280" width="1" height="5" fill="#ff0000"/>
<rect x="1011" y="280" width="3" height="5" fill="#ff0000"/>
<rect x="1016" y="257" width="1" height="36" fill="#ff0000"/>
<rect x="1015" y="262" width="3" height="21" fill="#ff0000"/>
<rect x="1020" y="254" width="1" height="21" fill="#00ff80"/>
<rect x="1019" y="262" width="3" height="4" fill="#00ff80"/>
<rect x="1024" y="263" width="1" height="45" fill="#00ff80"/>
<rect x="1023" y="265" width="3" height="41" fill="#00ff80"/>
<rect x="1028" y="287" width="1" height="45" fill="#ff0000"/>
<rect x="1027" y="287" width="3" height="19" fill="#ff0000"/>
<rect x="1032" y="286" width="1" height="52" fill="#00ff80"/>
<rect x="1031" y="287" width="3" height="46" fill="#00ff80"/>
<rect x="1036" y="328" width="1" height="5" fill="#00ff80"/>
<rect x="1035" y="329" width="3" height="4" fill="#00ff80"/>
<rect x="1040" y="323" width="1" height="29" fill="#ff0000"/>
<rect x="1039" y="331" width="3" height="2" fill="#ff0000"/>
<rect x="1044" y="295" width="1" height="43" fill="#ff0000"/>
<rect x="1043" y="304" width="3" height="29" fill="#ff0000"/>
<rect x="1048" y="285" width="1" height="30" fill="#00ff80"/>
<rect x="1047" y="304" width="3" height="10" fill="#00ff80"/>
<rect x="1052" y="297" width="1" height="63" fill="#00ff80"/>
<rect x="1051" y="313" width="3" height="31" fill="#00ff80"/>
<rect x="1056" y="328" width="1" height="31" fill="#00ff80"/>
<rect x="1055" y="343" width="3" height="3" fill="#00ff80"/>
<rect x="1060" y="341" width="1" height="8" fill="#ff0000"/>
<rect x="1059" y="341" width="3" height="8" fill="#ff0000"/>
<rect x="1064" y="334" width="1" height="28" fill="#00ff80"/>
<rect x="1063" y="341" width="3" height="3" fill="#00ff80"/>
<rect x="1068" y="320" width="1" height="28" fill="#ff0000"/>
<rect x="1067" y="324" width="3" height="21" fill="#ff0000"/>
<rect x="1072" y="309" width="1" height="29" fill="#00ff80"/>
<rect x="1071" y="323" width="3" height="8" fill="#00ff80"/>
<rect x="1076" y="278" width="1" height="52" fill="#ff0000"/>
<rect x="1075" y="284" width="3" height="46" fill="#ff0000"/>
<rect x="1080" y="258" width="1" height="35" fill="#ff0000"/>
<rect x="1079" y="263" width="3" height="21" fill="#ff0000"/>
<rect x="1084" y="267" width="1" height="4" fill="#ff0000"/>
<rect x="1083" y="267" width="3" height="3" fill="#ff0000"/>
<rect x="1088" y="267" width="1" height="19" fill="#00ff80"/>
<rect x="1087" y="267" width="3" height="12" fill="#00ff80"/>
<rect x="1092" y="275" width="1" height="25" fill="#00ff80"/>
<rect x="1091" y="278" width="3" height="14" fill="#00ff80"/>
<rect x="1096" y="255" width="1" height="48" fill="#ff0000"/>
<rect x="1095" y="262" width="3" height="30" fill="#ff0000"/>
<rect x="1100" y="237" width="1" height="65" fill="#00ff80"/>
<rect x="1099" y="263" width="3" height="29" fill="#00ff80"/>
<rect x="1104" y="290" width="1" height="64" fill="#00ff80"/>
<rect x="1103" y="290" width="3" height="57" fill="#00ff80"/>
<rect x="1108" y="343" width="1" height="6" fill="#ff0000"/>
<rect x="1107" y="343" width="3" height="5" fill="#ff0000"/>
<rect x="1112" y="342" width="1" height="92" fill="#00ff80"/>
<rect x="1111" y="343" width="3" height="89" fill="#00ff80"/>
<rect x="1116" y="368" width="1" height="65" fill="#ff0000"/>
<rect x="1115" y="392" width="3" height="40" fill="#ff0000"/>
<rect x="1120" y="365" width="1" height="77" fill="#00ff80"/>
<rect x="1119" y="392" width="3" height="9" fill="#00ff80"/>
<rect x="1124" y="380" width="1" height="31" fill="#00ff80"/>
<rect x="1123" y="399" width="3" height="8" fill="#00ff80"/>
<rect x="1128" y="403" width="1" height="7" fill="#00ff80"/>
<rect x="1127" y="406" width="3" height="1" fill="#00ff80"/>
<path d="M4 435h1v1h-1zM5 436h1v1h-1zM6 437h1v1h-1zM7 437h1v1h-1zM8 438h1v1h-1zM9 439h1v1h-1zM10 440h1v1h-1zM11 440h1v1h-1zM12 441h1v1h-1zM13 442h1v1h-1zM14 442h1v1h-1zM15 443h1v1h-1zM16 444h1v1h-1zM17 444h1v1h-1zM18 445h1v1h-1zM19 445h1v1h-1zM20 446h1v1h-1zM21 447h1v1h-1zM22 448h1v2h-1zM23 450h1v1h-1zM24 451h1v1h-1zM25 452h1v1h-1zM26 453h1v2h-1zM27 455h1v1h-1zM28 456h1v1h-1zM29 457h1v1h-1zM30 458h1v1h-1zM31 459h1v1h-1zM32 460h1v1h-1zM33 460h1v1h-1zM34 461h1v1h-1zM35 462h1v1h-1zM36 463h1v1h-1zM37 464h1v1h-1zM38 465h1v1h-1zM39 466h1v1h-1zM40 467h1v1h-1zM41 467h1v1h-1zM42 468h1v1h-1zM43 469h1v1h-1zM44 470h1v1h-1zM45 470h1v1h-1zM46 469h1v1h-1zM47 469h1v1h-1zM48 469h1v1h-1zM49 468h1v1h-1zM50 466h1v2h-1zM51 465h1v1h-1zM52 463h1v2h-1zM53 461h1v2h-1zM54 459h1v2h-1zM55 457h1v2h-1zM56 454h1v3h-1zM57 452h1v2h-1zM58 450h1v2h-1zM59 448h1v2h-1zM60 446h1v2h-1zM61 444h1v2h-1zM62 442h1v2h-1zM63 440h1v2h-1zM64 438h1v2h-1zM65 436h1v2h-1zM66 434h1v2h-1zM67 430h1v4h-1zM68 426h1v4h-1zM69 422h1v4h-1zM70 419h1v3h-1zM71 415h1v4h-1zM72 411h1v4h-1zM73 407h1v4h-1zM74 404h1v3h-1zM75 400h1v4h-1zM76 396h1v4h-1zM77 393h1v3h-1zM78 389h1v4h-1zM79 385h1v4h-1zM80 382h1v3h-1zM81 378h1v4h-1zM82 374h1v4h-1zM83 370h1v4h-1zM84 366h1v4h-1zM85 361h1v5h-1zM86 356h1v5h-1zM87 350h1v6h-1zM88 346h1v4h-1zM89 343h1v3h-1zM90 339h1v4h-1zM91 336h1v3h-1zM92 333h1v3h-1zM93 330h1v3h-1zM94 328h1v2h-1zM95 325h1v3h-1zM96 322h1v3h-1zM97 319h1v3h-1zM98 316h1v3h-1zM99 313h1v3h-1zM100 311h1v2h-1zM101 308h1v3h-1zM102 305h1v3h-1zM103 303h1v2h-1zM104 302h1v1h-1zM105 302h1v1h-1zM106 301h1v1h-1zM107 300h1v1h-1zM108 298h1v2h-1zM109 297h1v1h-1zM110 296h1v1h-1zM111 294h1v2h-1zM112 293h1v1h-1zM113 292h1v1h-1zM114 291h1v1h-1zM115 290h1v1h-1zM116 288h1v2h-1zM117 287h1v1h-1zM118 286h1v1h-1zM119 285h1v1h-1zM120 284h1v1h-1zM121 282h1v2h-1zM122 281h1v1h-1zM123 280h1v1h-1zM124 279h1v1h-1zM125 279h1v1h-1zM126 278h1v1h-1zM127 277h1v1h-1zM128 276h1v1h-1zM129 276h1v1h-1zM130 275h1v1h-1zM131 274h1v1h-1zM132 274h1v1h-1zM133 273h1v1h-1zM134 273h1v1h-1zM135 272h1v1h-1zM136 272h1v1h-1zM137 271h1v1h-1zM138 271h1v1h-1zM139 270h1v1h-1zM140 270h1v1h-1zM141 269h1v1h-1zM142 269h1v1h-1zM143 268h1v1h-1zM144 267h1v1h-1zM145 266h1v1h-1zM146 265h1v1h-1zM147 264h1v1h-1zM148 263h1v1h-1zM149 262h1v1h-1zM150 261h1v1h-1zM151 259h1v2h-1zM152 258h1v1h-1zM153 257h1v1h-1zM154 256h1v1h-1zM155 255h1v1h-1zM156 253h1v2h-1zM157 251h1v2h-1zM158 249h1v2h-1zM159 247h1v2h-1zM160 244h1v3h-1zM161 242h1v2h-1zM162 240h1v2h-1zM163 237h1v3h-1zM164 235h1v2h-1zM165 233h1v2h-1zM166 231h1v2h-1zM167 230h1v1h-1zM168 228h1v2h-1zM169 226h1v2h-1zM170 225h1v1h-1zM171 223h1v2h-1zM172 222h1v1h-1zM173 221h1v1h-1zM174 220h1v1h-1zM175 220h1v1h-1zM176 219h1v1h-1zM177 218h1v1h-1zM178 217h1v1h-1zM179 216h1v1h-1zM180 215h1v1h-1zM181 215h1v1h-1zM182 214h1v1h-1zM183 213h1v1h-1zM184 212h1v1h-1zM185 212h1v1h-1zM186 211h1v1h-1zM187 210h1v1h-1zM188 210h1v1h-1zM189 209h1v1h-1zM190 208h1v1h-1zM191 208h1v1h-1zM192 207h1v1h-1zM193 205h1v2h-1zM194 204h1v1h-1zM195 202h1v2h-1zM196 201h1v1h-1zM197 199h1v2h-1zM198 198h1v1h-1zM199 196h1v2h-1zM200 195h1v1h-1zM201 194h1v1h-1zM202 192h1v2h-1zM203 191h1v1h-1zM204 190h1v1h-1zM205 189h1v1h-1zM206 187h1v2h-1zM207 186h1v1h-1zM208 185h1v1h-1zM209 185h1v1h-1zM210 184h1v1h-1zM211 184h1v1h-1zM212 183h1v1h-1zM213 183h1v1h-1zM214 183h1v1h-1zM215 182h1v1h-1zM216 182h1v1h-1zM217 183h1v1h-1zM218 184h1v2h-1zM219 186h1v1h-1zM220 187h1v1h-1zM221 187h1v1h-1zM222 188h1v1h-1zM223 188h1v1h-1zM224 189h1v1h-1zM225 189h1v1h-1zM226 190h1v2h-1zM227 192h1v1h-1zM228 193h1v1h-1zM229 194h1v2h-1zM230 196h1v1h-1zM231 197h1v1h-1zM232 198h1v2h-1zM233 200h1v1h-1zM234 201h1v1h-1zM235 202h1v1h-1zM236 203h1v1h-1zM237 203h1v1h-1zM238 204h1v1h-1zM239 205h1v1h-1zM240 206h1v1h-1zM241 207h1v1h-1zM242 208h1v1h-1zM243 208h1v1h-1zM244 209h1v1h-1zM245 210h1v1h-1zM246 211h1v1h-1zM247 212h1v1h-1zM248 213h1v1h-1zM249 214h1v1h-1zM250 215h1v1h-1zM251 215h1v1h-1zM252 216h1v1h-1zM253 217h1v1h-1zM254 218h1v1h-1zM255 219h1v1h-1zM256 220h1v2h-1zM257 222h1v2h-1zM258 224h1v2h-1zM259 226h1v2h-1zM260 228h1v2h-1zM261 230h1v1h-1zM262 231h1v1h-1zM263 232h1v1h-1zM264 233h1v1h-1zM265 234h1v1h-1zM266 235h1v1h-1zM267 236h1v1h-1zM268 237h1v1h-1zM269 238h1v1h-1zM270 239h1v2h-1zM271 241h1v1h-1zM272 242h1v1h-1zM273 242h1v1h-1zM274 243h1v1h-1zM275 243h1v1h-1zM276 243h1v1h-1zM277 243h1v1h-1zM278 244h1v1h-1zM279 244h1v1h-1zM280 244h1v1h-1zM281 244h1v1h-1zM282 243h1v1h-1zM283 243h1v1h-1zM284 243h1v1h-1zM285 242h1v1h-1zM286 242h1v1h-1zM287 243h1v1h-1zM288 243h1v1h-1zM289 244h1v1h-1zM290 244h1v1h-1zM291 245h1v1h-1zM292 246h1v1h-1zM293 246h1v1h-1zM294 247h1v1h-1zM295 248h1v1h-1zM296 249h1v1h-1zM297 250h1v1h-1zM298 250h1v1h-1zM299 251h1v1h-1zM300 252h1v1h-1zM301 253h1v1h-1zM302 253h1v1h-1zM303 254h1v1h-1zM304 254h1v1h-1zM305 255h1v1h-1zM306 256h1v1h-1zM307 256h1v1h-1zM308 257h1v1h-1zM309 257h1v1h-1zM310 258h1v1h-1zM311 258h1v1h-1zM312 258h1v1h-1zM313 258h1v1h-1zM314 258h1v1h-1zM315 257h1v1h-1zM316 257h1v1h-1zM317 257h1v1h-1zM318 257h1v1h-1zM319 257h1v1h-1zM320 257h1v1h-1zM321 258h1v1h-1zM322 259h1v1h-1zM323 259h1v1h-1zM324 260h1v1h-1zM325 261h1v1h-1zM326 262h1v1h-1zM327 262h1v1h-1zM328 263h1v1h-1zM329 264h1v1h-1zM330 265h1v1h-1zM331 265h1v1h-1zM332 266h1v1h-1zM333 267h1v1h-1zM334 268h1v1h-1zM335 268h1v1h-1zM336 269h1v1h-1zM337 269h1v1h-1zM338 270h1v1h-1zM339 270h1v1h-1zM340 270h1v1h-1zM341 270h1v1h-1zM342 271h1v1h-1zM343 271h1v1h-1zM344 271h1v1h-1zM345 271h1v1h-1zM346 272h1v1h-1zM347 272h1v1h-1zM348 273h1v1h-1zM349 273h1v1h-1zM350 273h1v1h-1zM351 274h1v1h-1zM352 274h1v1h-1zM353 274h1v1h-1zM354 274h1v1h-1zM355 273h1v1h-1zM356 273h1v1h-1zM357 273h1v1h-1zM358 273h1v1h-1zM359 274h1v1h-1zM360 275h1v1h-1zM361 276h1v1h-1zM362 277h1v1h-1zM363 278h1v1h-1zM364 279h1v1h-1zM365 280h1v2h-1zM366 282h1v1h-1zM367 283h1v1h-1zM368 284h1v2h-1zM369 286h1v1h-1zM370 287h1v2h-1zM371 289h1v2h-1zM372 291h1v2h-1zM373 293h1v2h-1zM374 295h1v2h-1zM375 297h1v2h-1zM376 299h1v1h-1zM377 300h1v1h-1zM378 300h1v1h-1zM379 301h1v1h-1zM380 301h1v1h-1zM381 302h1v1h-1zM382 303h1v1h-1zM383 304h1v1h-1zM384 305h1v1h-1zM385 306h1v1h-1zM386 307h1v1h-1zM387 308h1v1h-1zM388 309h1v1h-1zM389 309h1v1h-1zM390 309h1v1h-1zM391 309h1v1h-1zM392 309h1v1h-1zM393 310h1v2h-1zM394 312h1v2h-1zM395 314h1v2h-1zM396 316h1v2h-1zM397 318h1v2h-1zM398 320h1v2h-1zM399 322h1v1h-1zM400 323h1v2h-1zM401 325h1v2h-1zM402 327h1v1h-1zM403 328h1v1h-1zM404 329h1v1h-1zM405 330h1v1h-1zM406 330h1v1h-1zM407 331h1v1h-1zM408 332h1v1h-1zM409 333h1v1h-1zM410 334h1v1h-1zM411 335h1v1h-1zM412 336h1v1h-1zM413 337h1v1h-1zM414 337h1v1h-1zM415 338h1v1h-1zM416 338h1v1h-1zM417 339h1v1h-1zM418 340h1v1h-1zM419 340h1v1h-1zM420 341h1v1h-1zM421 341h1v1h-1zM422 340h1v1h-1zM423 340h1v1h-1zM424 340h1v1h-1zM425 339h1v1h-1zM426 337h1v2h-1zM427 336h1v1h-1zM428 335h1v1h-1zM429 334h1v1h-1zM430 333h1v1h-1zM431 331h1v2h-1zM432 330h1v1h-1zM433 329h1v1h-1zM434 328h1v1h-1zM435 327h1v1h-1zM436 326h1v1h-1zM437 325h1v1h-1zM438 324h1v1h-1zM439 323h1v1h-1zM440 322h1v1h-1zM441 320h1v2h-1zM442 319h1v1h-1zM443 318h1v1h-1zM444 316h1v2h-1zM445 315h1v1h-1zM446 314h1v1h-1zM447 312h1v2h-1zM448 310h1v2h-1zM449 308h1v2h-1zM450 306h1v2h-1zM451 304h1v2h-1zM452 302h1v2h-1zM453 300h1v2h-1zM454 298h1v2h-1zM455 296h1v2h-1zM456 293h1v3h-1zM457 291h1v2h-1zM458 289h1v2h-1zM459 287h1v2h-1zM460 285h1v2h-1zM461 284h1v1h-1zM462 282h1v2h-1zM463 281h1v1h-1zM464 280h1v1h-1zM465 279h1v1h-1zM466 278h1v1h-1zM467 277h1v1h-1zM468 277h1v1h-1zM469 276h1v1h-1zM470 275h1v1h-1zM471 273h1v2h-1zM472 271h1v2h-1zM473 269h1v2h-1zM474 267h1v2h-1zM475 265h1v2h-1zM476 264h1v1h-1zM477 263h1v1h-1zM478 262h1v1h-1zM479 262h1v1h-1zM480 261h1v1h-1zM481 260h1v1h-1zM482 259h1v1h-1zM483 259h1v1h-1zM484 258h1v1h-1zM485 258h1v1h-1zM486 258h1v1h-1zM487 257h1v1h-1zM488 257h1v1h-1zM489 257h1v1h-1zM490 257h1v1h-1zM491 256h1v1h-1zM492 256h1v1h-1zM493 255h1v1h-1zM494 254h1v1h-1zM495 254h1v1h-1zM496 253h1v1h-1zM497 252h1v1h-1zM498 251h1v1h-1zM499 251h1v1h-1zM500 250h1v1h-1zM501 249h1v1h-1zM502 248h1v1h-1zM503 248h1v1h-1zM504 247h1v1h-1zM505 246h1v1h-1zM506 246h1v1h-1zM507 245h1v1h-1zM508 245h1v1h-1zM509 244h1v1h-1zM510 244h1v1h-1zM511 243h1v1h-1zM512 243h1v1h-1zM513 242h1v1h-1zM514 241h1v1h-1zM515 241h1v1h-1zM516 240h1v1h-1zM517 238h1v2h-1zM518 237h1v1h-1zM519 235h1v2h-1zM520 234h1v1h-1zM521 232h1v2h-1zM522 231h1v1h-1zM523 229h1v2h-1zM524 227h1v2h-1zM525 226h1v1h-1zM526 224h1v2h-1zM527 222h1v2h-1zM528 221h1v1h-1zM529 219h1v2h-1zM530 217h1v2h-1zM531 215h1v2h-1zM532 213h1v2h-1zM533 211h1v2h-1zM534 210h1v1h-1zM535 209h1v1h-1zM536 207h1v2h-1zM537 206h1v1h-1zM538 205h1v1h-1zM539 203h1v2h-1zM540 202h1v1h-1zM541 201h1v1h-1zM542 200h1v1h-1zM543 200h1v1h-1zM544 199h1v1h-1zM545 198h1v1h-1zM546 198h1v1h-1zM547 197h1v1h-1zM548 197h1v1h-1zM549 197h1v1h-1zM550 197h1v1h-1zM551 197h1v1h-1zM552 196h1v1h-1zM553 196h1v1h-1zM554 196h1v1h-1zM555 197h1v1h-1zM556 197h1v1h-1zM557 198h1v1h-1zM558 198h1v1h-1zM559 199h1v1h-1zM560 199h1v1h-1zM561 199h1v1h-1zM562 199h1v1h-1zM563 199h1v1h-1zM564 199h1v1h-1zM565 199h1v1h-1zM566 199h1v1h-1zM567 199h1v1h-1zM568 199h1v1h-1zM569 199h1v1h-1zM570 199h1v1h-1zM571 200h1v1h-1zM572 201h1v1h-1zM573 201h1v1h-1zM574 202h1v1h-1zM575 203h1v1h-1zM576 204h1v1h-1zM577 205h1v1h-1zM578 206h1v1h-1zM579 207h1v1h-1zM580 208h1v1h-1zM581 209h1v1h-1zM582 210h1v1h-1zM583 211h1v1h-1zM584 212h1v1h-1zM585 213h1v1h-1zM586 214h1v1h-1zM587 214h1v1h-1zM588 215h1v1h-1zM589 215h1v1h-1zM590 216h1v1h-1zM591 216h1v1h-1zM592 216h1v1h-1zM593 216h1v1h-1zM594 215h1v1h-1zM595 215h1v1h-1zM596 214h1v1h-1zM597 214h1v1h-1zM598 213h1v1h-1zM599 212h1v1h-1zM600 211h1v1h-1zM601 210h1v1h-1zM602 209h1v1h-1zM603 208h1v1h-1zM604 207h1v1h-1zM605 206h1v1h-1zM606 205h1v1h-1zM607 204h1v1h-1zM608 204h1v1h-1zM609 203h1v1h-1zM610 202h1v1h-1zM611 201h1v1h-1zM612 200h1v1h-1zM613 199h1v1h-1zM614 198h1v1h-1zM615 197h1v1h-1zM616 196h1v1h-1zM617 195h1v1h-1zM618 195h1v1h-1zM619 194h1v1h-1zM620 194h1v1h-1zM621 193h1v1h-1zM622 193h1v1h-1zM623 192h1v1h-1zM624 191h1v1h-1zM625 191h1v1h-1zM626 190h1v1h-1zM627 190h1v1h-1zM628 189h1v1h-1zM629 189h1v1h-1zM630 188h1v1h-1zM631 188h1v1h-1zM632 188h1v1h-1zM633 187h1v1h-1zM634 187h1v1h-1zM635 187h1v1h-1zM636 187h1v1h-1zM637 186h1v1h-1zM638 186h1v1h-1zM639 186h1v1h-1zM640 187h1v1h-1zM641 187h1v1h-1zM642 188h1v2h-1zM643 190h1v1h-1zM644 191h1v1h-1zM645 192h1v2h-1zM646 194h1v1h-1zM647 195h1v1h-1zM648 196h1v2h-1zM649 198h1v1h-1zM650 199h1v1h-1zM651 200h1v2h-1zM652 202h1v1h-1zM653 203h1v2h-1zM654 205h1v2h-1zM655 207h1v2h-1zM656 209h1v2h-1zM657 211h1v2h-1zM658 213h1v2h-1zM659 215h1v2h-1zM660 217h1v3h-1zM661 220h1v2h-1zM662 222h1v2h-1zM663 224h1v2h-1zM664 226h1v2h-1zM665 228h1v2h-1zM666 230h1v2h-1zM667 232h1v2h-1zM668 234h1v1h-1zM669 235h1v1h-1zM670 236h1v2h-1zM671 238h1v1h-1zM672 239h1v1h-1zM673 240h1v2h-1zM674 242h1v1h-1zM675 243h1v2h-1zM676 245h1v1h-1zM677 246h1v1h-1zM678 246h1v1h-1zM679 247h1v1h-1zM680 248h1v1h-1zM681 248h1v1h-1zM682 249h1v1h-1zM683 250h1v1h-1zM684 250h1v1h-1zM685 251h1v1h-1zM686 251h1v1h-1zM687 252h1v1h-1zM688 252h1v1h-1zM689 252h1v1h-1zM690 253h1v1h-1zM691 253h1v1h-1zM692 254h1v1h-1zM693 254h1v1h-1zM694 254h1v1h-1zM695 253h1v1h-1zM696 253h1v1h-1zM697 252h1v1h-1zM698 252h1v1h-1zM699 251h1v1h-1zM700 250h1v1h-1zM701 249h1v1h-1zM702 248h1v1h-1zM703 247h1v1h-1zM704 246h1v1h-1zM705 245h1v1h-1zM706 244h1v1h-1zM707 244h1v1h-1zM708 243h1v1h-1zM709 242h1v1h-1zM710 241h1v1h-1zM711 241h1v1h-1zM712 240h1v1h-1zM713 239h1v1h-1zM714 237h1v2h-1zM715 236h1v1h-1zM716 235h1v1h-1zM717 234h1v1h-1zM718 232h1v2h-1zM719 231h1v1h-1zM720 230h1v1h-1zM721 229h1v1h-1zM722 228h1v1h-1zM723 227h1v1h-1zM724 226h1v1h-1zM725 225h1v1h-1zM726 224h1v1h-1zM727 223h1v1h-1zM728 222h1v1h-1zM729 221h1v1h-1zM730 220h1v1h-1zM731 219h1v1h-1zM732 219h1v1h-1zM733 218h1v1h-1zM734 217h1v1h-1zM735 215h1v2h-1zM736 213h1v2h-1zM737 211h1v2h-1zM738 209h1v2h-1zM739 207h1v2h-1zM740 205h1v2h-1zM741 203h1v2h-1zM742 201h1v2h-1zM743 199h1v2h-1zM744 196h1v3h-1zM745 194h1v2h-1zM746 192h1v2h-1zM747 190h1v2h-1zM748 187h1v3h-1zM749 185h1v2h-1zM750 183h1v2h-1zM751 181h1v2h-1zM752 178h1v3h-1zM753 176h1v2h-1zM754 174h1v2h-1zM755 172h1v2h-1zM756 169h1v3h-1zM757 165h1v4h-1zM758 161h1v4h-1zM759 157h1v4h-1zM760 154h1v3h-1zM761 152h1v2h-1zM762 149h1v3h-1zM763 147h1v2h-1zM764 144h1v3h-1zM765 142h1v2h-1zM766 139h1v3h-1zM767 137h1v2h-1zM768 134h1v3h-1zM769 132h1v2h-1zM770 130h1v2h-1zM771 128h1v2h-1zM772 125h1v3h-1zM773 123h1v2h-1zM774 121h1v2h-1zM775 119h1v2h-1zM776 117h1v2h-1zM777 115h1v2h-1zM778 113h1v2h-1zM779 111h1v2h-1zM780 110h1v1h-1zM781 108h1v2h-1zM782 106h1v2h-1zM783 104h1v2h-1zM784 103h1v1h-1zM785 101h1v2h-1zM786 100h1v1h-1zM787 98h1v2h-1zM788 97h1v1h-1zM789 96h1v1h-1zM790 95h1v1h-1zM791 94h1v1h-1zM792 93h1v1h-1zM793 92h1v1h-1zM794 91h1v1h-1zM795 91h1v1h-1zM796 90h1v1h-1zM797 90h1v1h-1zM798 90h1v1h-1zM799 89h1v1h-1zM800 89h1v1h-1zM801 88h1v1h-1zM802 88h1v1h-1zM803 87h1v1h-1zM804 86h1v1h-1zM805 85h1v1h-1zM806 84h1v1h-1zM807 84h1v1h-1zM808 84h1v1h-1zM809 84h1v1h-1zM810 84h1v1h-1zM811 85h1v1h-1zM812 85h1v1h-1zM813 86h1v1h-1zM814 87h1v1h-1zM815 88h1v2h-1zM816 90h1v1h-1zM817 91h1v1h-1zM818 92h1v1h-1zM819 93h1v1h-1zM820 94h1v1h-1zM821 95h1v1h-1zM822 96h1v1h-1zM823 97h1v2h-1zM824 99h1v2h-1zM825 101h1v2h-1zM826 103h1v2h-1zM827 105h1v1h-1zM828 106h1v2h-1zM829 108h1v1h-1zM830 109h1v1h-1zM831 110h1v2h-1zM832 112h1v1h-1zM833 113h1v1h-1zM834 114h1v2h-1zM835 116h1v1h-1zM836 117h1v1h-1zM837 118h1v1h-1zM838 118h1v1h-1zM839 119h1v1h-1zM840 120h1v1h-1zM841 121h1v1h-1zM842 122h1v1h-1zM843 123h1v1h-1zM844 124h1v1h-1zM845 125h1v1h-1zM846 126h1v1h-1zM847 127h1v1h-1zM848 128h1v1h-1zM849 129h1v1h-1zM850 130h1v1h-1zM851 130h1v1h-1zM852 131h1v1h-1zM853 132h1v1h-1zM854 133h1v1h-1zM855 134h1v2h-1zM856 136h1v1h-1zM857 137h1v2h-1zM858 139h1v2h-1zM859 141h1v3h-1zM860 144h1v2h-1zM861 146h1v2h-1zM862 148h1v2h-1zM863 150h1v2h-1zM864 152h1v2h-1zM865 154h1v2h-1zM866 156h1v1h-1zM867 157h1v2h-1zM868 159h1v1h-1zM869 160h1v2h-1zM870 162h1v1h-1zM871 163h1v1h-1zM872 164h1v1h-1zM873 165h1v1h-1zM874 166h1v1h-1zM875 167h1v1h-1zM876 167h1v1h-1zM877 167h1v1h-1zM878 168h1v1h-1zM879 168h1v1h-1zM880 168h1v1h-1zM881 168h1v1h-1zM882 168h1v1h-1zM883 168h1v1h-1zM884 168h1v1h-1zM885 169h1v1h-1zM886 170h1v1h-1zM887 171h1v1h-1zM888 172h1v1h-1zM889 173h1v1h-1zM890 174h1v2h-1zM891 176h1v1h-1zM892 177h1v2h-1zM893 179h1v2h-1zM894 181h1v2h-1zM895 183h1v2h-1zM896 185h1v2h-1zM897 187h1v2h-1zM898 189h1v2h-1zM899 191h1v2h-1zM900 193h1v2h-1zM901 195h1v2h-1zM902 197h1v3h-1zM903 200h1v2h-1zM904 202h1v2h-1zM905 204h1v2h-1zM906 206h1v3h-1zM907 209h1v3h-1zM908 212h1v3h-1zM909 215h1v3h-1zM910 218h1v2h-1zM911 220h1v2h-1zM912 222h1v2h-1zM913 224h1v2h-1zM914 226h1v2h-1zM915 228h1v2h-1zM916 230h1v2h-1zM917 232h1v1h-1zM918 233h1v2h-1zM919 235h1v1h-1zM920 236h1v1h-1zM921 237h1v2h-1zM922 239h1v1h-1zM923 240h1v1h-1zM924 241h1v1h-1zM925 242h1v2h-1zM926 244h1v1h-1zM927 245h1v1h-1zM928 246h1v1h-1zM929 247h1v1h-1zM930 248h1v2h-1zM931 250h1v1h-1zM932 251h1v1h-1zM933 252h1v1h-1zM934 253h1v2h-1zM935 255h1v1h-1zM936 256h1v1h-1zM937 257h1v2h-1zM938 259h1v1h-1zM939 260h1v2h-1zM940 262h1v1h-1zM941 262h1v1h-1zM942 263h1v1h-1zM943 263h1v1h-1zM944 263h1v1h-1zM945 263h1v1h-1zM946 264h1v1h-1zM947 264h1v1h-1zM948 264h1v1h-1zM949 264h1v1h-1zM950 263h1v1h-1zM951 263h1v1h-1zM952 263h1v1h-1zM953 264h1v2h-1zM954 266h1v2h-1zM955 268h1v2h-1zM956 270h1v1h-1zM957 271h1v2h-1zM958 273h1v2h-1zM959 275h1v2h-1zM960 277h1v2h-1zM961 279h1v2h-1zM962 281h1v2h-1zM963 283h1v2h-1zM964 285h1v2h-1zM965 287h1v2h-1zM966 289h1v2h-1zM967 291h1v1h-1zM968 292h1v2h-1zM969 294h1v2h-1zM970 296h1v1h-1zM971 297h1v2h-1zM972 299h1v2h-1zM973 301h1v1h-1zM974 302h1v2h-1zM975 304h1v2h-1zM976 306h1v2h-1zM977 308h1v2h-1zM978 310h1v2h-1zM979 312h1v2h-1zM980 314h1v2h-1zM981 316h1v2h-1zM982 318h1v2h-1zM983 320h1v2h-1zM984 322h1v2h-1zM985 324h1v2h-1zM986 326h1v2h-1zM987 328h1v2h-1zM988 330h1v1h-1zM989 331h1v2h-1zM990 333h1v2h-1zM991 335h1v2h-1zM992 337h1v1h-1zM993 338h1v2h-1zM994 340h1v2h-1zM995 342h1v2h-1zM996 344h1v1h-1zM997 345h1v2h-1zM998 347h1v1h-1zM999 348h1v2h-1zM1000 350h1v1h-1zM1001 351h1v2h-1zM1002 353h1v2h-1zM1003 355h1v2h-1zM1004 357h1v2h-1zM1005 359h1v1h-1zM1006 359h1v1h-1zM1007 360h1v1h-1zM1008 360h1v1h-1zM1009 359h1v1h-1zM1010 357h1v2h-1zM1011 356h1v1h-1zM1012 355h1v1h-1zM1013 353h1v2h-1zM1014 351h1v2h-1zM1015 349h1v2h-1zM1016 346h1v3h-1zM1017 344h1v2h-1zM1018 342h1v2h-1zM1019 340h1v2h-1zM1020 338h1v2h-1zM1021 336h1v2h-1zM1022 334h1v2h-1zM1023 332h1v2h-1zM1024 329h1v3h-1zM1025 327h1v2h-1zM1026 324h1v3h-1zM1027 322h1v2h-1zM1028 320h1v2h-1zM1029 319h1v1h-1zM1030 318h1v1h-1zM1031 318h1v1h-1zM1032 317h1v1h-1zM1033 316h1v1h-1zM1034 314h1v2h-1zM1035 313h1v1h-1zM1036 312h1v1h-1zM1037 311h1v1h-1zM1038 310h1v1h-1zM1039 309h1v1h-1zM1040 308h1v1h-1zM1041 307h1v1h-1zM1042 306h1v1h-1zM1043 306h1v1h-1zM1044 305h1v1h-1zM1045 305h1v1h-1zM1046 304h1v1h-1zM1047 304h1v1h-1zM1048 304h1v1h-1zM1049 305h1v1h-1zM1050 305h1v1h-1zM1051 306h1v1h-1zM1052 306h1v1h-1zM1053 306h1v1h-1zM1054 307h1v1h-1zM1055 307h1v1h-1zM1056 307h1v1h-1zM1057 307h1v1h-1zM1058 308h1v1h-1zM1059 308h1v1h-1zM1060 308h1v1h-1zM1061 309h1v1h-1zM1062 310h1v2h-1zM1063 312h1v1h-1zM1064 313h1v1h-1zM1065 314h1v1h-1zM1066 315h1v1h-1zM1067 315h1v1h-1zM1068 316h1v1h-1zM1069 317h1v1h-1zM1070 318h1v2h-1zM1071 320h1v1h-1zM1072 321h1v1h-1zM1073 321h1v1h-1zM1074 321h1v1h-1zM1075 321h1v1h-1zM1076 321h1v1h-1zM1077 320h1v1h-1zM1078 320h1v1h-1zM1079 319h1v1h-1zM1080 319h1v1h-1zM1081 319h1v1h-1zM1082 318h1v1h-1zM1083 318h1v1h-1zM1084 318h1v1h-1zM1085 317h1v1h-1zM1086 316h1v1h-1zM1087 316h1v1h-1zM1088 315h1v1h-1zM1089 314h1v1h-1zM1090 313h1v1h-1zM1091 312h1v1h-1zM1092 311h1v1h-1zM1093 310h1v1h-1zM1094 308h1v2h-1zM1095 307h1v1h-1zM1096 306h1v1h-1zM1097 306h1v1h-1zM1098 305h1v1h-1zM1099 305h1v1h-1zM1100 305h1v1h-1zM1101 306h1v1h-1zM1102 306h1v1h-1zM1103 307h1v1h-1zM1104 307h1v1h-1zM1105 307h1v1h-1zM1106 308h1v1h-1zM1107 308h1v1h-1zM1108 308h1v1h-1zM1109 309h1v1h-1zM1110 310h1v1h-1zM1111 311h1v1h-1zM1112 312h1v1h-1zM1113 313h1v1h-1zM1114 314h1v2h-1zM1115 316h1v1h-1zM1116 317h1v1h-1zM1117 318h1v1h-1zM1118 319h1v2h-1zM1119 321h1v1h-1zM1120 322h1v1h-1zM1121 323h1v1h-1zM1122 324h1v2h-1zM1123 326h1v1h-1zM1124 327h1v1h-1zM1125 328h1v1h-1zM1126 329h1v2h-1zM1127 331h1v1h-1z" fill="#ff0000"/>
<path d="M4 435h1v1h-1zM5 436h1v1h-1zM6 437h1v1h-1zM7 438h1v1h-1zM8 439h1v1h-1zM9 439h1v1h-1zM10 440h1v1h-1zM11 441h1v1h-1zM12 442h1v2h-1zM13 444h1v2h-1zM14 446h1v2h-1zM15 448h1v2h-1zM16 450h1v3h-1zM17 453h1v2h-1zM18 455h1v2h-1zM19 457h1v2h-1zM20 459h1v3h-1zM21 462h1v2h-1zM22 464h1v2h-1zM23 466h1v2h-1zM24 468h1v3h-1zM25 471h1v2h-1zM26 473h1v2h-1zM27 475h1v2h-1zM28 477h1v2h-1zM29 479h1v2h-1zM30 481h1v1h-1zM31 482h1v2h-1zM32 484h1v1h-1zM33 485h1v2h-1zM34 487h1v1h-1zM35 488h1v2h-1zM36 490h1v1h-1zM37 490h1v1h-1zM38 489h1v1h-1zM39 489h1v1h-1zM40 488h1v1h-1zM41 488h1v1h-1zM42 488h1v1h-1zM43 487h1v1h-1zM44 486h1v2h-1zM45 483h1v3h-1zM46 479h1v4h-1zM47 476h1v3h-1zM48 474h1v2h-1zM49 472h1v2h-1zM50 466h1v6h-1zM51 457h1v9h-1zM52 450h1v7h-1zM53 446h1v4h-1zM54 441h1v5h-1zM55 437h1v4h-1zM56 434h1v3h-1zM57 432h1v2h-1zM58 428h1v4h-1zM59 420h1v8h-1zM60 412h1v8h-1zM61 404h1v8h-1zM62 397h1v7h-1zM63 391h1v6h-1zM64 385h1v6h-1zM65 379h1v6h-1zM66 373h1v6h-1zM67 367h1v6h-1zM68 360h1v7h-1zM69 353h1v7h-1zM70 346h1v7h-1zM71 339h1v7h-1zM72 333h1v6h-1zM73 329h1v4h-1zM74 325h1v4h-1zM75 321h1v4h-1zM76 317h1v4h-1zM77 314h1v3h-1zM78 312h1v2h-1zM79 309h1v3h-1zM80 306h1v3h-1zM81 304h1v2h-1zM82 301h1v3h-1zM83 299h1v2h-1zM84 297h1v2h-1zM85 294h1v3h-1zM86 292h1v2h-1zM87 290h1v2h-1zM88 288h1v2h-1zM89 287h1v1h-1zM90 285h1v2h-1zM91 283h1v2h-1zM92 282h1v1h-1zM93 282h1v1h-1zM94 283h1v1h-1zM95 283h1v1h-1zM96 284h1v1h-1zM97 284h1v1h-1zM98 284h1v1h-1zM99 285h1v1h-1zM100 285h1v1h-1zM101 285h1v1h-1zM102 285h1v1h-1zM103 285h1v1h-1zM104 285h1v1h-1zM105 286h1v1h-1zM106 287h1v1h-1zM107 288h1v1h-1zM108 289h1v1h-1zM109 289h1v1h-1zM110 290h1v1h-1zM111 291h1v1h-1zM112 292h1v1h-1zM113 291h1v1h-1zM114 290h1v1h-1zM115 290h1v1h-1zM116 289h1v1h-1zM117 288h1v1h-1zM118 286h1v2h-1zM119 284h1v2h-1zM120 283h1v1h-1zM121 281h1v2h-1zM122 279h1v2h-1zM123 277h1v2h-1zM124 276h1v1h-1zM125 274h1v2h-1zM126 272h1v2h-1zM127 271h1v1h-1zM128 269h1v2h-1zM129 268h1v1h-1zM130 266h1v2h-1zM131 264h1v2h-1zM132 263h1v1h-1zM133 261h1v2h-1zM134 259h1v2h-1zM135 257h1v2h-1zM136 255h1v2h-1zM137 254h1v1h-1zM138 252h1v2h-1zM139 250h1v2h-1zM140 248h1v2h-1zM141 246h1v2h-1zM142 244h1v2h-1zM143 243h1v1h-1zM144 243h1v1h-1zM145 243h1v1h-1zM146 242h1v1h-1zM147 242h1v1h-1zM148 242h1v1h-1zM149 242h1v1h-1zM150 241h1v1h-1zM151 241h1v1h-1zM152 241h1v1h-1zM153 240h1v1h-1zM154 239h1v1h-1zM155 238h1v1h-1zM156 237h1v1h-1zM157 235h1v2h-1zM158 232h1v3h-1zM159 229h1v3h-1zM160 226h1v3h-1zM161 224h1v2h-1zM162 221h1v3h-1zM163 218h1v3h-1zM164 215h1v3h-1zM165 213h1v2h-1zM166 211h1v2h-1zM167 209h1v2h-1zM168 208h1v1h-1zM169 206h1v2h-1zM170 204h1v2h-1zM171 203h1v1h-1zM172 201h1v2h-1zM173 199h1v2h-1zM174 198h1v1h-1zM175 197h1v1h-1zM176 196h1v1h-1zM177 195h1v1h-1zM178 193h1v2h-1zM179 192h1v1h-1zM180 191h1v1h-1zM181 190h1v1h-1zM182 190h1v1h-1zM183 190h1v1h-1zM184 190h1v1h-1zM185 191h1v1h-1zM186 192h1v1h-1zM187 192h1v1h-1zM188 193h1v1h-1zM189 194h1v1h-1zM190 195h1v1h-1zM191 195h1v1h-1zM192 196h1v1h-1zM193 195h1v1h-1zM194 195h1v1h-1zM195 194h1v1h-1zM196 193h1v1h-1zM197 193h1v1h-1zM198 192h1v1h-1zM199 192h1v1h-1zM200 191h1v1h-1zM201 189h1v2h-1zM202 187h1v2h-1zM203 185h1v2h-1zM204 183h1v2h-1zM205 182h1v1h-1zM206 182h1v1h-1zM207 181h1v1h-1zM208 181h1v1h-1zM209 180h1v1h-1zM210 179h1v1h-1zM211 178h1v1h-1zM212 177h1v1h-1zM213 175h1v2h-1zM214 174h1v1h-1zM215 173h1v1h-1zM216 172h1v1h-1zM217 171h1v1h-1zM218 172h1v2h-1zM219 174h1v2h-1zM220 176h1v2h-1zM221 178h1v1h-1zM222 179h1v2h-1zM223 181h1v2h-1zM224 183h1v2h-1zM225 185h1v2h-1zM226 187h1v4h-1zM227 191h1v3h-1zM228 194h1v3h-1zM229 197h1v4h-1zM230 201h1v3h-1zM231 204h1v4h-1zM232 208h1v7h-1zM233 215h1v2h-1zM234 217h1v3h-1zM235 220h1v3h-1zM236 223h1v2h-1zM237 225h1v3h-1zM238 228h1v3h-1zM239 231h1v2h-1zM240 233h1v3h-1zM241 236h1v3h-1zM242 239h1v2h-1zM243 241h1v3h-1zM244 244h1v2h-1zM245 246h1v1h-1zM246 247h1v1h-1zM247 247h1v1h-1zM248 248h1v1h-1zM249 249h1v1h-1zM250 249h1v1h-1zM251 250h1v1h-1zM252 250h1v1h-1zM253 249h1v1h-1zM254 248h1v1h-1zM255 247h1v1h-1zM256 246h1v1h-1zM257 245h1v1h-1zM258 245h1v1h-1zM259 246h1v1h-1zM260 246h1v1h-1zM261 245h1v1h-1zM262 244h1v1h-1zM263 243h1v1h-1zM264 242h1v1h-1zM265 242h1v1h-1zM266 241h1v1h-1zM267 240h1v1h-1zM268 239h1v1h-1zM269 239h1v1h-1zM270 239h1v1h-1zM271 239h1v1h-1zM272 238h1v1h-1zM273 238h1v1h-1zM274 238h1v1h-1zM275 238h1v1h-1zM276 238h1v1h-1zM277 238h1v1h-1zM278 239h1v1h-1zM279 239h1v1h-1zM280 239h1v1h-1zM281 239h1v1h-1zM282 240h1v1h-1zM283 240h1v1h-1zM284 240h1v1h-1zM285 240h1v1h-1zM286 240h1v1h-1zM287 241h1v1h-1zM288 241h1v1h-1zM289 241h1v2h-1zM290 243h1v2h-1zM291 245h1v2h-1zM292 247h1v2h-1zM293 249h1v3h-1zM294 252h1v2h-1zM295 254h1v2h-1zM296 256h1v2h-1zM297 258h1v2h-1zM298 260h1v2h-1zM299 262h1v1h-1zM300 263h1v2h-1zM301 265h1v1h-1zM302 266h1v2h-1zM303 268h1v2h-1zM304 270h1v1h-1zM305 271h1v1h-1zM306 272h1v1h-1zM307 273h1v1h-1zM308 274h1v1h-1zM309 275h1v1h-1zM310 276h1v1h-1zM311 277h1v1h-1zM312 278h1v1h-1zM313 277h1v1h-1zM314 275h1v2h-1zM315 274h1v1h-1zM316 273h1v1h-1zM317 271h1v2h-1zM318 270h1v1h-1zM319 269h1v1h-1zM320 268h1v1h-1zM321 266h1v2h-1zM322 265h1v1h-1zM323 264h1v1h-1zM324 263h1v1h-1zM325 262h1v1h-1zM326 262h1v1h-1zM327 261h1v1h-1zM328 261h1v1h-1zM329 260h1v1h-1zM330 260h1v1h-1zM331 259h1v1h-1zM332 260h1v1h-1zM333 261h1v1h-1zM334 262h1v1h-1zM335 263h1v1h-1zM336 264h1v1h-1zM337 264h1v1h-1zM338 264h1v1h-1zM339 264h1v1h-1zM340 264h1v1h-1zM341 265h1v1h-1zM342 266h1v1h-1zM343 267h1v2h-1zM344 269h1v1h-1zM345 270h1v1h-1zM346 271h1v2h-1zM347 273h1v2h-1zM348 275h1v2h-1zM349 277h1v3h-1zM350 280h1v2h-1zM351 282h1v2h-1zM352 284h1v2h-1zM353 285h1v1h-1zM354 285h1v1h-1zM355 285h1v1h-1zM356 285h1v1h-1zM357 286h1v2h-1zM358 288h1v1h-1zM359 289h1v2h-1zM360 291h1v1h-1zM361 291h1v1h-1zM362 292h1v1h-1zM363 292h1v1h-1zM364 292h1v2h-1zM365 294h1v3h-1zM366 297h1v2h-1zM367 299h1v3h-1zM368 302h1v3h-1zM369 305h1v3h-1zM370 308h1v4h-1zM371 312h1v3h-1zM372 315h1v2h-1zM373 317h1v1h-1zM374 318h1v2h-1zM375 320h1v1h-1zM376 321h1v1h-1zM377 320h1v1h-1zM378 319h1v1h-1zM379 319h1v1h-1zM380 318h1v1h-1zM381 319h1v2h-1zM382 321h1v2h-1zM383 323h1v2h-1zM384 325h1v2h-1zM385 326h1v1h-1zM386 326h1v1h-1zM387 326h1v1h-1zM388 326h1v1h-1zM389 326h1v1h-1zM390 326h1v1h-1zM391 326h1v1h-1zM392 326h1v1h-1zM393 327h1v1h-1zM394 328h1v2h-1zM395 330h1v1h-1zM396 331h1v1h-1zM397 331h1v1h-1zM398 332h1v1h-1zM399 332h1v1h-1zM400 332h1v1h-1zM401 333h1v2h-1zM402 335h1v1h-1zM403 336h1v2h-1zM404 338h1v1h-1zM405 339h1v2h-1zM406 341h1v2h-1zM407 343h1v2h-1zM408 345h1v1h-1zM409 346h1v1h-1zM410 347h1v1h-1zM411 348h1v1h-1zM412 349h1v1h-1zM413 350h1v1h-1zM414 351h1v1h-1zM415 351h1v1h-1zM416 352h1v1h-1zM417 353h1v1h-1zM418 354h1v1h-1zM419 354h1v1h-1zM420 355h1v1h-1zM421 353h1v2h-1zM422 351h1v2h-1zM423 349h1v2h-1zM424 347h1v2h-1zM425 344h1v3h-1zM426 340h1v4h-1zM427 337h1v3h-1zM428 334h1v3h-1zM429 330h1v4h-1zM430 326h1v4h-1zM431 322h1v4h-1zM432 318h1v4h-1zM433 315h1v3h-1zM434 312h1v3h-1zM435 308h1v4h-1zM436 305h1v3h-1zM437 302h1v3h-1zM438 299h1v3h-1zM439 297h1v2h-1zM440 294h1v3h-1zM441 290h1v4h-1zM442 286h1v4h-1zM443 282h1v4h-1zM444 279h1v3h-1zM445 275h1v4h-1zM446 271h1v4h-1zM447 267h1v4h-1zM448 264h1v3h-1zM449 262h1v2h-1zM450 260h1v2h-1zM451 258h1v2h-1zM452 256h1v2h-1zM453 255h1v1h-1zM454 254h1v1h-1zM455 254h1v1h-1zM456 253h1v1h-1zM457 252h1v1h-1zM458 252h1v1h-1zM459 252h1v1h-1zM460 253h1v1h-1zM461 253h1v1h-1zM462 253h1v1h-1zM463 254h1v1h-1zM464 254h1v1h-1zM465 255h1v1h-1zM466 256h1v1h-1zM467 256h1v1h-1zM468 257h1v1h-1zM469 257h1v1h-1zM470 258h1v1h-1zM471 259h1v1h-1zM472 260h1v1h-1zM473 261h1v1h-1zM474 262h1v1h-1zM475 263h1v1h-1zM476 264h1v1h-1zM477 264h1v1h-1zM478 265h1v1h-1zM479 265h1v1h-1zM480 266h1v1h-1zM481 266h1v1h-1zM482 266h1v1h-1zM483 265h1v1h-1zM484 265h1v1h-1zM485 265h1v1h-1zM486 264h1v1h-1zM487 264h1v1h-1zM488 263h1v1h-1zM489 263h1v1h-1zM490 261h1v2h-1zM491 259h1v2h-1zM492 257h1v2h-1zM493 255h1v2h-1zM494 253h1v2h-1zM495 251h1v2h-1zM496 249h1v2h-1zM497 247h1v2h-1zM498 245h1v2h-1zM499 243h1v2h-1zM500 241h1v2h-1zM501 239h1v2h-1zM502 237h1v2h-1zM503 235h1v2h-1zM504 234h1v1h-1zM505 232h1v2h-1zM506 230h1v2h-1zM507 228h1v2h-1zM508 227h1v1h-1zM509 226h1v1h-1zM510 224h1v2h-1zM511 223h1v1h-1zM512 222h1v1h-1zM513 220h1v2h-1zM514 218h1v2h-1zM515 216h1v2h-1zM516 214h1v2h-1zM517 211h1v3h-1zM518 209h1v2h-1zM519 206h1v3h-1zM520 203h1v3h-1zM521 201h1v2h-1zM522 199h1v2h-1zM523 198h1v1h-1zM524 196h1v2h-1zM525 195h1v1h-1zM526 194h1v1h-1zM527 193h1v1h-1zM528 193h1v1h-1zM529 192h1v1h-1zM530 192h1v1h-1zM531 191h1v1h-1zM532 191h1v1h-1zM533 189h1v2h-1zM534 188h1v1h-1zM535 186h1v2h-1zM536 185h1v1h-1zM537 184h1v1h-1zM538 182h1v2h-1zM539 181h1v1h-1zM540 180h1v1h-1zM541 181h1v1h-1zM542 181h1v1h-1zM543 182h1v1h-1zM544 182h1v1h-1zM545 183h1v2h-1zM546 185h1v2h-1zM547 187h1v2h-1zM548 189h1v1h-1zM549 190h1v2h-1zM550 192h1v2h-1zM551 194h1v2h-1zM552 196h1v1h-1zM553 197h1v1h-1zM554 198h1v2h-1zM555 200h1v1h-1zM556 201h1v1h-1zM557 202h1v1h-1zM558 203h1v2h-1zM559 205h1v1h-1zM560 206h1v1h-1zM561 207h1v1h-1zM562 208h1v2h-1zM563 210h1v1h-1zM564 211h1v1h-1zM565 212h1v2h-1zM566 214h1v1h-1zM567 215h1v2h-1zM568 217h1v1h-1zM569 217h1v1h-1zM570 218h1v1h-1zM571 218h1v1h-1zM572 218h1v1h-1zM573 219h1v1h-1zM574 220h1v1h-1zM575 220h1v1h-1zM576 221h1v1h-1zM577 222h1v1h-1zM578 222h1v1h-1zM579 223h1v1h-1zM580 223h1v1h-1zM581 223h1v1h-1zM582 223h1v1h-1zM583 223h1v1h-1zM584 224h1v1h-1zM585 224h1v1h-1zM586 224h1v1h-1zM587 224h1v1h-1zM588 224h1v1h-1zM589 223h1v1h-1zM590 222h1v1h-1zM591 222h1v1h-1zM592 221h1v1h-1zM593 220h1v1h-1zM594 219h1v1h-1zM595 217h1v2h-1zM596 216h1v1h-1zM597 215h1v1h-1zM598 214h1v1h-1zM599 212h1v2h-1zM600 208h1v4h-1zM601 203h1v5h-1zM602 200h1v3h-1zM603 197h1v3h-1zM604 194h1v3h-1zM605 192h1v2h-1zM606 190h1v2h-1zM607 188h1v2h-1zM608 186h1v2h-1zM609 184h1v2h-1zM610 182h1v2h-1zM611 179h1v3h-1zM612 175h1v4h-1zM613 173h1v2h-1zM614 171h1v2h-1zM615 169h1v2h-1zM616 167h1v2h-1zM617 166h1v1h-1zM618 166h1v1h-1zM619 166h1v1h-1zM620 166h1v1h-1zM621 166h1v1h-1zM622 166h1v1h-1zM623 167h1v1h-1zM624 168h1v1h-1zM625 169h1v2h-1zM626 171h1v1h-1zM627 172h1v2h-1zM628 174h1v1h-1zM629 175h1v2h-1zM630 177h1v1h-1zM631 178h1v2h-1zM632 180h1v2h-1zM633 182h1v2h-1zM634 184h1v2h-1zM635 186h1v2h-1zM636 188h1v3h-1zM637 191h1v2h-1zM638 193h1v2h-1zM639 195h1v2h-1zM640 197h1v3h-1zM641 200h1v2h-1zM642 202h1v4h-1zM643 206h1v5h-1zM644 211h1v4h-1zM645 215h1v3h-1zM646 218h1v3h-1zM647 221h1v3h-1zM648 224h1v3h-1zM649 227h1v2h-1zM650 229h1v3h-1zM651 232h1v2h-1zM652 234h1v3h-1zM653 237h1v2h-1zM654 239h1v3h-1zM655 242h1v2h-1zM656 244h1v3h-1zM657 247h1v2h-1zM658 249h1v3h-1zM659 252h1v2h-1zM660 254h1v2h-1zM661 256h1v2h-1zM662 258h1v2h-1zM663 260h1v2h-1zM664 262h1v2h-1zM665 264h1v1h-1zM666 265h1v2h-1zM667 267h1v1h-1zM668 268h1v1h-1zM669 267h1v1h-1zM670 266h1v1h-1zM671 265h1v1h-1zM672 264h1v1h-1zM673 263h1v1h-1zM674 262h1v1h-1zM675 262h1v1h-1zM676 261h1v1h-1zM677 260h1v1h-1zM678 260h1v1h-1zM679 259h1v1h-1zM680 259h1v1h-1zM681 257h1v2h-1zM682 256h1v1h-1zM683 255h1v1h-1zM684 253h1v2h-1zM685 252h1v1h-1zM686 251h1v1h-1zM687 249h1v2h-1zM688 248h1v1h-1zM689 247h1v1h-1zM690 245h1v2h-1zM691 244h1v1h-1zM692 243h1v1h-1zM693 242h1v1h-1zM694 241h1v1h-1zM695 240h1v1h-1zM696 238h1v2h-1zM697 237h1v1h-1zM698 236h1v1h-1zM699 235h1v1h-1zM700 234h1v1h-1zM701 233h1v1h-1zM702 232h1v1h-1zM703 231h1v1h-1zM704 230h1v1h-1zM705 229h1v1h-1zM706 228h1v1h-1zM707 227h1v1h-1zM708 226h1v1h-1zM709 226h1v1h-1zM710 225h1v1h-1zM711 225h1v1h-1zM712 225h1v1h-1zM713 224h1v1h-1zM714 223h1v1h-1zM715 223h1v1h-1zM716 222h1v1h-1zM717 220h1v2h-1zM718 219h1v1h-1zM719 217h1v2h-1zM720 216h1v1h-1zM721 215h1v1h-1zM722 214h1v1h-1zM723 214h1v1h-1zM724 213h1v1h-1zM725 212h1v1h-1zM726 211h1v1h-1zM727 211h1v1h-1zM728 210h1v1h-1zM729 209h1v1h-1zM730 208h1v1h-1zM731 207h1v1h-1zM732 205h1v2h-1zM733 203h1v2h-1zM734 201h1v2h-1zM735 199h1v2h-1zM736 196h1v3h-1zM737 193h1v3h-1zM738 190h1v3h-1zM739 187h1v3h-1zM740 184h1v3h-1zM741 181h1v3h-1zM742 177h1v4h-1zM743 174h1v3h-1zM744 171h1v3h-1zM745 169h1v2h-1zM746 166h1v3h-1zM747 164h1v2h-1zM748 161h1v3h-1zM749 158h1v3h-1zM750 155h1v3h-1zM751 151h1v4h-1zM752 148h1v3h-1zM753 144h1v4h-1zM754 138h1v6h-1zM755 132h1v6h-1zM756 127h1v5h-1zM757 123h1v4h-1zM758 120h1v3h-1zM759 116h1v4h-1zM760 113h1v3h-1zM761 109h1v4h-1zM762 106h1v3h-1zM763 102h1v4h-1zM764 100h1v2h-1zM765 98h1v2h-1zM766 96h1v2h-1zM767 94h1v2h-1zM768 92h1v2h-1zM769 91h1v1h-1zM770 89h1v2h-1zM771 88h1v1h-1zM772 87h1v1h-1zM773 86h1v1h-1zM774 85h1v1h-1zM775 84h1v1h-1zM776 83h1v1h-1zM777 82h1v1h-1zM778 80h1v2h-1zM779 79h1v1h-1zM780 78h1v1h-1zM781 79h1v1h-1zM782 80h1v1h-1zM783 80h1v1h-1zM784 81h1v1h-1zM785 81h1v1h-1zM786 82h1v1h-1zM787 82h1v1h-1zM788 82h1v1h-1zM789 83h1v1h-1zM790 83h1v1h-1zM791 84h1v1h-1zM792 84h1v1h-1zM793 85h1v1h-1zM794 86h1v1h-1zM795 86h1v1h-1zM796 87h1v1h-1zM797 88h1v1h-1zM798 88h1v1h-1zM799 89h1v1h-1zM800 89h1v1h-1zM801 89h1v1h-1zM802 89h1v1h-1zM803 89h1v1h-1zM804 89h1v1h-1zM805 89h1v1h-1zM806 88h1v1h-1zM807 88h1v1h-1zM808 88h1v1h-1zM809 89h1v1h-1zM810 89h1v1h-1zM811 90h1v1h-1zM812 90h1v1h-1zM813 91h1v2h-1zM814 93h1v1h-1zM815 94h1v2h-1zM816 96h1v1h-1zM817 97h1v2h-1zM818 99h1v2h-1zM819 101h1v2h-1zM820 103h1v2h-1zM821 105h1v2h-1zM822 107h1v2h-1zM823 109h1v2h-1zM824 111h1v3h-1zM825 114h1v2h-1zM826 116h1v3h-1zM827 119h1v2h-1zM828 121h1v3h-1zM829 124h1v3h-1zM830 127h1v4h-1zM831 131h1v3h-1zM832 134h1v3h-1zM833 137h1v2h-1zM834 139h1v3h-1zM835 142h1v2h-1zM836 144h1v2h-1zM837 146h1v2h-1zM838 148h1v1h-1zM839 149h1v2h-1zM840 151h1v1h-1zM841 152h1v1h-1zM842 152h1v1h-1zM843 153h1v1h-1zM844 153h1v1h-1zM845 154h1v1h-1zM846 154h1v1h-1zM847 155h1v1h-1zM848 155h1v1h-1zM849 154h1v1h-1zM850 152h1v2h-1zM851 151h1v1h-1zM852 150h1v1h-1zM853 150h1v1h-1zM854 149h1v1h-1zM855 149h1v1h-1zM856 149h1v1h-1zM857 150h1v1h-1zM858 151h1v2h-1zM859 153h1v1h-1zM860 154h1v2h-1zM861 156h1v2h-1zM862 158h1v2h-1zM863 160h1v2h-1zM864 162h1v2h-1zM865 164h1v2h-1zM866 166h1v2h-1zM867 168h1v2h-1zM868 170h1v2h-1zM869 172h1v2h-1zM870 174h1v2h-1zM871 176h1v2h-1zM872 178h1v1h-1zM873 179h1v1h-1zM874 180h1v1h-1zM875 180h1v1h-1zM876 181h1v1h-1zM877 182h1v1h-1zM878 182h1v1h-1zM879 183h1v1h-1zM880 183h1v1h-1zM881 184h1v1h-1zM882 185h1v1h-1zM883 185h1v1h-1zM884 186h1v1h-1zM885 187h1v1h-1zM886 188h1v1h-1zM887 188h1v1h-1zM888 189h1v1h-1zM889 189h1v1h-1zM890 190h1v1h-1zM891 190h1v1h-1zM892 190h1v1h-1zM893 191h1v2h-1zM894 193h1v2h-1zM895 195h1v2h-1zM896 197h1v3h-1zM897 200h1v3h-1zM898 203h1v3h-1zM899 206h1v3h-1zM900 209h1v3h-1zM901 212h1v4h-1zM902 216h1v3h-1zM903 219h1v4h-1zM904 223h1v3h-1zM905 226h1v3h-1zM906 229h1v4h-1zM907 233h1v3h-1zM908 236h1v4h-1zM909 240h1v4h-1zM910 244h1v5h-1zM911 249h1v4h-1zM912 253h1v4h-1zM913 257h1v3h-1zM914 260h1v3h-1zM915 263h1v3h-1zM916 266h1v3h-1zM917 269h1v3h-1zM918 272h1v2h-1zM919 274h1v3h-1zM920 277h1v2h-1zM921 279h1v2h-1zM922 281h1v2h-1zM923 283h1v2h-1zM924 284h1v1h-1zM925 283h1v1h-1zM926 283h1v1h-1zM927 283h1v1h-1zM928 282h1v1h-1zM929 282h1v1h-1zM930 282h1v1h-1zM931 282h1v1h-1zM932 282h1v1h-1zM933 280h1v2h-1zM934 278h1v2h-1zM935 276h1v2h-1zM936 274h1v2h-1zM937 271h1v3h-1zM938 269h1v2h-1zM939 266h1v3h-1zM940 263h1v3h-1zM941 260h1v3h-1zM942 258h1v2h-1zM943 255h1v3h-1zM944 252h1v3h-1zM945 249h1v3h-1zM946 247h1v2h-1zM947 244h1v3h-1zM948 242h1v2h-1zM949 242h1v1h-1zM950 242h1v1h-1zM951 242h1v1h-1zM952 242h1v2h-1zM953 244h1v3h-1zM954 247h1v3h-1zM955 250h1v3h-1zM956 253h1v3h-1zM957 256h1v4h-1zM958 260h1v4h-1zM959 264h1v4h-1zM960 268h1v5h-1zM961 273h1v5h-1zM962 278h1v5h-1zM963 283h1v5h-1zM964 288h1v5h-1zM965 293h1v6h-1zM966 299h1v6h-1zM967 305h1v6h-1zM968 311h1v6h-1zM969 317h1v7h-1zM970 324h1v6h-1zM971 330h1v7h-1zM972 337h1v6h-1zM973 343h1v6h-1zM974 349h1v6h-1zM975 355h1v5h-1zM976 360h1v6h-1zM977 366h1v6h-1zM978 372h1v5h-1zM979 377h1v3h-1zM980 380h1v4h-1zM981 384h1v3h-1zM982 387h1v2h-1zM983 389h1v2h-1zM984 391h1v2h-1zM985 391h1v1h-1zM986 391h1v1h-1zM987 390h1v1h-1zM988 389h1v2h-1zM989 387h1v2h-1zM990 384h1v3h-1zM991 382h1v2h-1zM992 379h1v3h-1zM993 376h1v3h-1zM994 372h1v4h-1zM995 369h1v3h-1zM996 366h1v3h-1zM997 363h1v3h-1zM998 360h1v3h-1zM999 357h1v3h-1zM1000 354h1v3h-1zM1001 352h1v2h-1zM1002 350h1v2h-1zM1003 348h1v2h-1zM1004 345h1v3h-1zM1005 341h1v4h-1zM1006 337h1v4h-1zM1007 333h1v4h-1zM1008 329h1v4h-1zM1009 325h1v4h-1zM1010 321h1v4h-1zM1011 317h1v4h-1zM1012 314h1v3h-1zM1013 310h1v4h-1zM1014 307h1v3h-1zM1015 303h1v4h-1zM1016 300h1v3h-1zM1017 298h1v2h-1zM1018 297h1v1h-1zM1019 295h1v2h-1zM1020 294h1v1h-1zM1021 293h1v1h-1zM1022 292h1v1h-1zM1023 292h1v1h-1zM1024 291h1v1h-1zM1025 290h1v1h-1zM1026 288h1v2h-1zM1027 287h1v1h-1zM1028 286h1v1h-1zM1029 286h1v1h-1zM1030 286h1v1h-1zM1031 286h1v1h-1zM1032 286h1v1h-1zM1033 287h1v2h-1zM1034 289h1v2h-1zM1035 291h1v2h-1zM1036 293h1v1h-1zM1037 294h1v2h-1zM1038 296h1v2h-1zM1039 298h1v2h-1zM1040 300h1v2h-1zM1041 302h1v2h-1zM1042 304h1v2h-1zM1043 306h1v2h-1zM1044 308h1v1h-1zM1045 309h1v2h-1zM1046 311h1v2h-1zM1047 313h1v2h-1zM1048 315h1v1h-1zM1049 316h1v2h-1zM1050 318h1v1h-1zM1051 319h1v2h-1zM1052 321h1v1h-1zM1053 322h1v2h-1zM1054 324h1v2h-1zM1055 326h1v2h-1zM1056 328h1v1h-1zM1057 329h1v1h-1zM1058 329h1v1h-1zM1059 330h1v1h-1zM1060 330h1v1h-1zM1061 330h1v1h-1zM1062 331h1v1h-1zM1063 331h1v1h-1zM1064 331h1v1h-1zM1065 331h1v1h-1zM1066 330h1v1h-1zM1067 330h1v1h-1zM1068 330h1v1h-1zM1069 331h1v1h-1zM1070 332h1v1h-1zM1071 333h1v1h-1zM1072 334h1v1h-1zM1073 333h1v1h-1zM1074 331h1v2h-1zM1075 330h1v1h-1zM1076 328h1v2h-1zM1077 325h1v3h-1zM1078 323h1v2h-1zM1079 320h1v3h-1zM1080 317h1v3h-1zM1081 315h1v2h-1zM1082 313h1v2h-1zM1083 311h1v2h-1zM1084 308h1v3h-1zM1085 306h1v2h-1zM1086 304h1v2h-1zM1087 302h1v2h-1zM1088 299h1v3h-1zM1089 297h1v2h-1zM1090 295h1v2h-1zM1091 293h1v2h-1zM1092 291h1v2h-1zM1093 289h1v2h-1zM1094 287h1v2h-1zM1095 285h1v2h-1zM1096 283h1v2h-1zM1097 281h1v2h-1zM1098 279h1v2h-1zM1099 277h1v2h-1zM1100 276h1v1h-1zM1101 277h1v2h-1zM1102 279h1v2h-1zM1103 281h1v2h-1zM1104 283h1v3h-1zM1105 286h1v3h-1zM1106 289h1v3h-1zM1107 292h1v4h-1zM1108 296h1v4h-1zM1109 300h1v4h-1zM1110 304h1v4h-1zM1111 308h1v4h-1zM1112 312h1v5h-1zM1113 317h1v4h-1zM1114 321h1v5h-1zM1115 326h1v4h-1zM1116 330h1v5h-1zM1117 335h1v4h-1zM1118 339h1v5h-1zM1119 344h1v4h-1zM1120 348h1v5h-1zM1121 353h1v4h-1zM1122 357h1v5h-1zM1123 362h1v5h-1zM1124 367h1v4h-1zM1125 371h1v5h-1zM1126 376h1v5h-1zM1127 381h1v5h-1zM1128 386h1v3h-1z" fill="#0000cd"/>
<rect x="4" y="210" width="1415" height="3" fill="#ff0000"/>
<rect x="4" y="260" width="1415" height="3" fill="#ff0000"/>
<rect x="4" y="258" width="6" height="7" fill="#ff0000"/><rect x="6" y="261" width="1" height="1" fill="#fff"/>
<rect x="1413" y="258" width="6" height="7" fill="#ff0000"/><rect x="1416" y="261" width="1" height="1" fill="#fff"/>
<rect x="4" y="361" width="1415" height="3" fill="#00ff00"/>
<rect x="4" y="359" width="6" height="7" fill="#00ff00"/><rect x="6" y="362" width="1" height="1" fill="#fff"/>
<rect x="1413" y="359" width="6" height="7" fill="#00ff00"/><rect x="1416" y="362" width="1" height="1" fill="#fff"/>
<rect x="4" y="433" width="1415" height="3" fill="#0000ff"/>
<rect x="4" y="546" width="1415" height="3" fill="#0000ff"/>
<rect x="4" y="544" width="6" height="7" fill="#0000ff"/><rect x="6" y="547" width="1" height="1" fill="#fff"/>
<rect x="1413" y="544" width="6" height="7" fill="#0000ff"/><rect x="1416" y="547" width="1" height="1" fill="#fff"/>
</g>
<rect x="1421" y="205" width="41" height="11" fill="#ff0000"/>
<text x="1425" y="214" font-size="10" fill="#fff" textLength="33" lengthAdjust="spacingAndGlyphs">1.00106</text>
<rect x="1421" y="255" width="41" height="11" fill="#ff0000"/>
<text x="1425" y="264" font-size="10" fill="#fff" textLength="33" lengthAdjust="spacingAndGlyphs">0.99406</text>
<rect x="1421" y="356" width="41" height="11" fill="#00ff00"/>
<text x="1425" y="365" font-size="10" fill="#fff" textLength="33" lengthAdjust="spacingAndGlyphs">0.98004</text>
<rect x="1421" y="401" width="41" height="11" fill="#000"/>
<text x="1425" y="410" font-size="10" fill="#fff" textLength="33" lengthAdjust="spacingAndGlyphs">0.97382</text>
<rect x="1421" y="428" width="41" height="11" fill="#0000ff"/>
<text x="1425" y="437" font-size="10" fill="#fff" textLength="33" lengthAdjust="spacingAndGlyphs">0.97001</text>
<rect x="1421" y="541" width="41" height="11" fill="#0000ff"/>
<text x="1425" y="550" font-size="10" fill="#fff" textLength="33" lengthAdjust="spacingAndGlyphs">0.95425</text>
<path d="M7 29 L14.5 29 L10.75 33 Z" fill="#000"/>
<text x="19.5" y="34" font-size="10" fill="#000" textLength="66.5" lengthAdjust="spacingAndGlyphs">USDCHF-,Daily</text>
<text x="93" y="34" font-size="10" fill="#000" textLength="140.5" lengthAdjust="spacingAndGlyphs">0.97399 0.97432 0.97362 0.97382</text>
<rect x="1130" y="23" width="9" height="1" fill="#c0c0c0"/>
<rect x="1131" y="24" width="7" height="1" fill="#c0c0c0"/>
<rect x="1132" y="25" width="5" height="1" fill="#c0c0c0"/>
<rect x="1133" y="26" width="3" height="1" fill="#c0c0c0"/>
<rect x="1134" y="27" width="1" height="1" fill="#c0c0c0"/>
<rect x="1420" y="565" width="1" height="1" fill="#000"/>
<text x="1423.2" y="574.5" font-size="10" fill="#000" textLength="37.7" lengthAdjust="spacingAndGlyphs">0.006286</text>
<rect x="1420" y="610" width="1" height="1" fill="#000"/>
<text x="1423.2" y="614.5" font-size="10" fill="#000" textLength="17.5" lengthAdjust="spacingAndGlyphs">0.00</text>
<rect x="1420" y="664" width="1" height="1" fill="#000"/>
<text x="1423.2" y="663.5" font-size="10" fill="#000" textLength="36.5" lengthAdjust="spacingAndGlyphs">-0.00762</text>
<g id="macd">
<rect x="4" y="610" width="1" height="39" fill="#c0c0c0"/>
<rect x="8" y="610" width="1" height="37" fill="#c0c0c0"/>
<rect x="12" y="610" width="1" height="38" fill="#c0c0c0"/>
<rect x="16" y="610" width="1" height="39" fill="#c0c0c0"/>
<rect x="20" y="610" width="1" height="39" fill="#c0c0c0"/>
<rect x="24" y="610" width="1" height="40" fill="#c0c0c0"/>
<rect x="28" y="610" width="1" height="41" fill="#c0c0c0"/>
<rect x="32" y="610" width="1" height="42" fill="#c0c0c0"/>
<rect x="36" y="610" width="1" height="41" fill="#c0c0c0"/>
<rect x="40" y="610" width="1" height="39" fill="#c0c0c0"/>
<rect x="44" y="610" width="1" height="33" fill="#c0c0c0"/>
<rect x="48" y="610" width="1" height="23" fill="#c0c0c0"/>
<rect x="52" y="610" width="1" height="14" fill="#c0c0c0"/>
<rect x="56" y="610" width="1" height="6" fill="#c0c0c0"/>
<rect x="60" y="608" width="1" height="3" fill="#c0c0c0"/>
<rect x="64" y="601" width="1" height="10" fill="#c0c0c0"/>
<rect x="68" y="592" width="1" height="19" fill="#c0c0c0"/>
<rect x="72" y="585" width="1" height="26" fill="#c0c0c0"/>
<rect x="76" y="580" width="1" height="31" fill="#c0c0c0"/>
<rect x="80" y="576" width="1" height="35" fill="#c0c0c0"/>
<rect x="84" y="574" width="1" height="37" fill="#c0c0c0"/>
<rect x="88" y="574" width="1" height="37" fill="#c0c0c0"/>
<rect x="92" y="573" width="1" height="38" fill="#c0c0c0"/>
<rect x="96" y="573" width="1" height="38" fill="#c0c0c0"/>
<rect x="100" y="572" width="1" height="39" fill="#c0c0c0"/>
<rect x="104" y="572" width="1" height="39" fill="#c0c0c0"/>
<rect x="108" y="572" width="1" height="39" fill="#c0c0c0"/>
<rect x="112" y="572" width="1" height="39" fill="#c0c0c0"/>
<rect x="116" y="572" width="1" height="39" fill="#c0c0c0"/>
<rect x="120" y="572" width="1" height="39" fill="#c0c0c0"/>
<rect x="124" y="572" width="1" height="39" fill="#c0c0c0"/>
<rect x="128" y="572" width="1" height="39" fill="#c0c0c0"/>
<rect x="132" y="572" width="1" height="39" fill="#c0c0c0"/>
<rect x="136" y="572" width="1" height="39" fill="#c0c0c0"/>
<rect x="140" y="572" width="1" height="39" fill="#c0c0c0"/>
<rect x="144" y="572" width="1" height="39" fill="#c0c0c0"/>
<rect x="148" y="572" width="1" height="39" fill="#c0c0c0"/>
<rect x="152" y="572" width="1" height="39" fill="#c0c0c0"/>
<rect x="156" y="572" width="1" height="39" fill="#c0c0c0"/>
<rect x="160" y="572" width="1" height="39" fill="#c0c0c0"/>
<rect x="164" y="572" width="1" height="39" fill="#c0c0c0"/>
<rect x="168" y="571" width="1" height="40" fill="#c0c0c0"/>
<rect x="172" y="572" width="1" height="39" fill="#c0c0c0"/>
<rect x="176" y="573" width="1" height="38" fill="#c0c0c0"/>
<rect x="180" y="574" width="1" height="37" fill="#c0c0c0"/>
<rect x="184" y="577" width="1" height="34" fill="#c0c0c0"/>
<rect x="188" y="579" width="1" height="32" fill="#c0c0c0"/>
<rect x="192" y="579" width="1" height="32" fill="#c0c0c0"/>
<rect x="196" y="579" width="1" height="32" fill="#c0c0c0"/>
<rect x="200" y="580" width="1" height="31" fill="#c0c0c0"/>
<rect x="204" y="578" width="1" height="33" fill="#c0c0c0"/>
<rect x="208" y="578" width="1" height="33" fill="#c0c0c0"/>
<rect x="212" y="580" width="1" height="31" fill="#c0c0c0"/>
<rect x="216" y="582" width="1" height="29" fill="#c0c0c0"/>
<rect x="220" y="587" width="1" height="24" fill="#c0c0c0"/>
<rect x="224" y="592" width="1" height="19" fill="#c0c0c0"/>
<rect x="228" y="600" width="1" height="11" fill="#c0c0c0"/>
<rect x="232" y="604" width="1" height="7" fill="#c0c0c0"/>
<rect x="236" y="608" width="1" height="3" fill="#c0c0c0"/>
<rect x="240" y="610" width="1" height="1" fill="#c0c0c0"/>
<rect x="244" y="610" width="1" height="1" fill="#c0c0c0"/>
<rect x="248" y="610" width="1" height="1" fill="#c0c0c0"/>
<rect x="252" y="610" width="1" height="1" fill="#c0c0c0"/>
<rect x="256" y="610" width="1" height="1" fill="#c0c0c0"/>
<rect x="260" y="610" width="1" height="5" fill="#c0c0c0"/>
<rect x="264" y="610" width="1" height="7" fill="#c0c0c0"/>
<rect x="268" y="610" width="1" height="4" fill="#c0c0c0"/>
<rect x="272" y="610" width="1" height="4" fill="#c0c0c0"/>
<rect x="276" y="610" width="1" height="4" fill="#c0c0c0"/>
<rect x="280" y="610" width="1" height="4" fill="#c0c0c0"/>
<rect x="284" y="610" width="1" height="5" fill="#c0c0c0"/>
<rect x="288" y="610" width="1" height="7" fill="#c0c0c0"/>
<rect x="292" y="610" width="1" height="11" fill="#c0c0c0"/>
<rect x="296" y="610" width="1" height="14" fill="#c0c0c0"/>
<rect x="300" y="610" width="1" height="15" fill="#c0c0c0"/>
<rect x="304" y="610" width="1" height="14" fill="#c0c0c0"/>
<rect x="308" y="610" width="1" height="14" fill="#c0c0c0"/>
<rect x="312" y="610" width="1" height="13" fill="#c0c0c0"/>
<rect x="316" y="610" width="1" height="10" fill="#c0c0c0"/>
<rect x="320" y="610" width="1" height="9" fill="#c0c0c0"/>
<rect x="324" y="610" width="1" height="8" fill="#c0c0c0"/>
<rect x="328" y="610" width="1" height="9" fill="#c0c0c0"/>
<rect x="332" y="610" width="1" height="9" fill="#c0c0c0"/>
<rect x="336" y="610" width="1" height="10" fill="#c0c0c0"/>
<rect x="340" y="610" width="1" height="9" fill="#c0c0c0"/>
<rect x="344" y="610" width="1" height="9" fill="#c0c0c0"/>
<rect x="348" y="610" width="1" height="12" fill="#c0c0c0"/>
<rect x="352" y="610" width="1" height="15" fill="#c0c0c0"/>
<rect x="356" y="610" width="1" height="13" fill="#c0c0c0"/>
<rect x="360" y="610" width="1" height="14" fill="#c0c0c0"/>
<rect x="364" y="610" width="1" height="17" fill="#c0c0c0"/>
<rect x="368" y="610" width="1" height="19" fill="#c0c0c0"/>
<rect x="372" y="610" width="1" height="23" fill="#c0c0c0"/>
<rect x="376" y="610" width="1" height="24" fill="#c0c0c0"/>
<rect x="380" y="610" width="1" height="21" fill="#c0c0c0"/>
<rect x="384" y="610" width="1" height="19" fill="#c0c0c0"/>
<rect x="388" y="610" width="1" height="19" fill="#c0c0c0"/>
<rect x="392" y="610" width="1" height="19" fill="#c0c0c0"/>
<rect x="396" y="610" width="1" height="21" fill="#c0c0c0"/>
<rect x="400" y="610" width="1" height="24" fill="#c0c0c0"/>
<rect x="404" y="610" width="1" height="28" fill="#c0c0c0"/>
<rect x="408" y="610" width="1" height="25" fill="#c0c0c0"/>
<rect x="412" y="610" width="1" height="24" fill="#c0c0c0"/>
<rect x="416" y="610" width="1" height="23" fill="#c0c0c0"/>
<rect x="420" y="610" width="1" height="23" fill="#c0c0c0"/>
<rect x="424" y="610" width="1" height="18" fill="#c0c0c0"/>
<rect x="428" y="610" width="1" height="13" fill="#c0c0c0"/>
<rect x="432" y="610" width="1" height="7" fill="#c0c0c0"/>
<rect x="436" y="610" width="1" height="1" fill="#c0c0c0"/>
<rect x="440" y="607" width="1" height="4" fill="#c0c0c0"/>
<rect x="444" y="602" width="1" height="9" fill="#c0c0c0"/>
<rect x="448" y="600" width="1" height="11" fill="#c0c0c0"/>
<rect x="452" y="598" width="1" height="13" fill="#c0c0c0"/>
<rect x="456" y="596" width="1" height="15" fill="#c0c0c0"/>
<rect x="460" y="597" width="1" height="14" fill="#c0c0c0"/>
<rect x="464" y="598" width="1" height="13" fill="#c0c0c0"/>
<rect x="468" y="600" width="1" height="11" fill="#c0c0c0"/>
<rect x="472" y="598" width="1" height="13" fill="#c0c0c0"/>
<rect x="476" y="598" width="1" height="13" fill="#c0c0c0"/>
<rect x="480" y="599" width="1" height="12" fill="#c0c0c0"/>
<rect x="484" y="599" width="1" height="12" fill="#c0c0c0"/>
<rect x="488" y="599" width="1" height="12" fill="#c0c0c0"/>
<rect x="492" y="597" width="1" height="14" fill="#c0c0c0"/>
<rect x="496" y="595" width="1" height="16" fill="#c0c0c0"/>
<rect x="500" y="592" width="1" height="19" fill="#c0c0c0"/>
<rect x="504" y="590" width="1" height="21" fill="#c0c0c0"/>
<rect x="508" y="590" width="1" height="21" fill="#c0c0c0"/>
<rect x="512" y="591" width="1" height="20" fill="#c0c0c0"/>
<rect x="516" y="589" width="1" height="22" fill="#c0c0c0"/>
<rect x="520" y="586" width="1" height="25" fill="#c0c0c0"/>
<rect x="524" y="583" width="1" height="28" fill="#c0c0c0"/>
<rect x="528" y="583" width="1" height="28" fill="#c0c0c0"/>
<rect x="532" y="583" width="1" height="28" fill="#c0c0c0"/>
<rect x="536" y="584" width="1" height="27" fill="#c0c0c0"/>
<rect x="540" y="586" width="1" height="25" fill="#c0c0c0"/>
<rect x="544" y="588" width="1" height="23" fill="#c0c0c0"/>
<rect x="548" y="591" width="1" height="20" fill="#c0c0c0"/>
<rect x="552" y="593" width="1" height="18" fill="#c0c0c0"/>
<rect x="556" y="596" width="1" height="15" fill="#c0c0c0"/>
<rect x="560" y="598" width="1" height="13" fill="#c0c0c0"/>
<rect x="564" y="600" width="1" height="11" fill="#c0c0c0"/>
<rect x="568" y="601" width="1" height="10" fill="#c0c0c0"/>
<rect x="572" y="602" width="1" height="9" fill="#c0c0c0"/>
<rect x="576" y="605" width="1" height="6" fill="#c0c0c0"/>
<rect x="580" y="606" width="1" height="5" fill="#c0c0c0"/>
<rect x="584" y="608" width="1" height="3" fill="#c0c0c0"/>
<rect x="588" y="608" width="1" height="3" fill="#c0c0c0"/>
<rect x="592" y="606" width="1" height="5" fill="#c0c0c0"/>
<rect x="596" y="603" width="1" height="8" fill="#c0c0c0"/>
<rect x="600" y="599" width="1" height="12" fill="#c0c0c0"/>
<rect x="604" y="597" width="1" height="14" fill="#c0c0c0"/>
<rect x="608" y="596" width="1" height="15" fill="#c0c0c0"/>
<rect x="612" y="593" width="1" height="18" fill="#c0c0c0"/>
<rect x="616" y="593" width="1" height="18" fill="#c0c0c0"/>
<rect x="620" y="596" width="1" height="15" fill="#c0c0c0"/>
<rect x="624" y="597" width="1" height="14" fill="#c0c0c0"/>
<rect x="628" y="599" width="1" height="12" fill="#c0c0c0"/>
<rect x="632" y="602" width="1" height="9" fill="#c0c0c0"/>
<rect x="636" y="604" width="1" height="7" fill="#c0c0c0"/>
<rect x="640" y="608" width="1" height="3" fill="#c0c0c0"/>
<rect x="644" y="610" width="1" height="4" fill="#c0c0c0"/>
<rect x="648" y="610" width="1" height="9" fill="#c0c0c0"/>
<rect x="652" y="610" width="1" height="12" fill="#c0c0c0"/>
<rect x="656" y="610" width="1" height="14" fill="#c0c0c0"/>
<rect x="660" y="610" width="1" height="16" fill="#c0c0c0"/>
<rect x="664" y="610" width="1" height="17" fill="#c0c0c0"/>
<rect x="668" y="610" width="1" height="17" fill="#c0c0c0"/>
<rect x="672" y="610" width="1" height="17" fill="#c0c0c0"/>
<rect x="676" y="610" width="1" height="15" fill="#c0c0c0"/>
<rect x="680" y="610" width="1" height="14" fill="#c0c0c0"/>
<rect x="684" y="610" width="1" height="12" fill="#c0c0c0"/>
<rect x="688" y="610" width="1" height="11" fill="#c0c0c0"/>
<rect x="692" y="610" width="1" height="9" fill="#c0c0c0"/>
<rect x="696" y="610" width="1" height="6" fill="#c0c0c0"/>
<rect x="700" y="610" width="1" height="4" fill="#c0c0c0"/>
<rect x="704" y="610" width="1" height="3" fill="#c0c0c0"/>
<rect x="708" y="610" width="1" height="2" fill="#c0c0c0"/>
<rect x="712" y="610" width="1" height="2" fill="#c0c0c0"/>
<rect x="716" y="610" width="1" height="1" fill="#c0c0c0"/>
<rect x="720" y="608" width="1" height="3" fill="#c0c0c0"/>
<rect x="724" y="606" width="1" height="5" fill="#c0c0c0"/>
<rect x="728" y="604" width="1" height="7" fill="#c0c0c0"/>
<rect x="732" y="603" width="1" height="8" fill="#c0c0c0"/>
<rect x="736" y="600" width="1" height="11" fill="#c0c0c0"/>
<rect x="740" y="596" width="1" height="15" fill="#c0c0c0"/>
<rect x="744" y="590" width="1" height="21" fill="#c0c0c0"/>
<rect x="748" y="587" width="1" height="24" fill="#c0c0c0"/>
<rect x="752" y="583" width="1" height="28" fill="#c0c0c0"/>
<rect x="756" y="578" width="1" height="33" fill="#c0c0c0"/>
<rect x="760" y="575" width="1" height="36" fill="#c0c0c0"/>
<rect x="764" y="572" width="1" height="39" fill="#c0c0c0"/>
<rect x="768" y="571" width="1" height="40" fill="#c0c0c0"/>
<rect x="772" y="571" width="1" height="40" fill="#c0c0c0"/>
<rect x="776" y="571" width="1" height="40" fill="#c0c0c0"/>
<rect x="780" y="572" width="1" height="39" fill="#c0c0c0"/>
<rect x="784" y="573" width="1" height="38" fill="#c0c0c0"/>
<rect x="788" y="574" width="1" height="37" fill="#c0c0c0"/>
<rect x="792" y="576" width="1" height="35" fill="#c0c0c0"/>
<rect x="796" y="580" width="1" height="31" fill="#c0c0c0"/>
<rect x="800" y="582" width="1" height="29" fill="#c0c0c0"/>
<rect x="804" y="582" width="1" height="29" fill="#c0c0c0"/>
<rect x="808" y="582" width="1" height="29" fill="#c0c0c0"/>
<rect x="812" y="586" width="1" height="25" fill="#c0c0c0"/>
<rect x="816" y="591" width="1" height="20" fill="#c0c0c0"/>
<rect x="820" y="596" width="1" height="15" fill="#c0c0c0"/>
<rect x="824" y="603" width="1" height="8" fill="#c0c0c0"/>
<rect x="828" y="607" width="1" height="4" fill="#c0c0c0"/>
<rect x="832" y="610" width="1" height="1" fill="#c0c0c0"/>
<rect x="836" y="610" width="1" height="1" fill="#c0c0c0"/>
<rect x="840" y="610" width="1" height="1" fill="#c0c0c0"/>
<rect x="844" y="610" width="1" height="2" fill="#c0c0c0"/>
<rect x="848" y="610" width="1" height="3" fill="#c0c0c0"/>
<rect x="852" y="610" width="1" height="4" fill="#c0c0c0"/>
<rect x="856" y="610" width="1" height="4" fill="#c0c0c0"/>
<rect x="860" y="610" width="1" height="9" fill="#c0c0c0"/>
<rect x="864" y="610" width="1" height="14" fill="#c0c0c0"/>
<rect x="868" y="610" width="1" height="17" fill="#c0c0c0"/>
<rect x="872" y="610" width="1" height="17" fill="#c0c0c0"/>
<rect x="876" y="610" width="1" height="15" fill="#c0c0c0"/>
<rect x="880" y="610" width="1" height="13" fill="#c0c0c0"/>
<rect x="884" y="610" width="1" height="13" fill="#c0c0c0"/>
<rect x="888" y="610" width="1" height="15" fill="#c0c0c0"/>
<rect x="892" y="610" width="1" height="19" fill="#c0c0c0"/>
<rect x="896" y="610" width="1" height="24" fill="#c0c0c0"/>
<rect x="900" y="610" width="1" height="28" fill="#c0c0c0"/>
<rect x="904" y="610" width="1" height="31" fill="#c0c0c0"/>
<rect x="908" y="610" width="1" height="33" fill="#c0c0c0"/>
<rect x="912" y="610" width="1" height="39" fill="#c0c0c0"/>
<rect x="916" y="610" width="1" height="40" fill="#c0c0c0"/>
<rect x="920" y="610" width="1" height="41" fill="#c0c0c0"/>
<rect x="924" y="610" width="1" height="39" fill="#c0c0c0"/>
<rect x="928" y="610" width="1" height="37" fill="#c0c0c0"/>
<rect x="932" y="610" width="1" height="35" fill="#c0c0c0"/>
<rect x="936" y="610" width="1" height="29" fill="#c0c0c0"/>
<rect x="940" y="610" width="1" height="24" fill="#c0c0c0"/>
<rect x="944" y="610" width="1" height="21" fill="#c0c0c0"/>
<rect x="948" y="610" width="1" height="18" fill="#c0c0c0"/>
<rect x="952" y="610" width="1" height="19" fill="#c0c0c0"/>
<rect x="956" y="610" width="1" height="25" fill="#c0c0c0"/>
<rect x="960" y="610" width="1" height="33" fill="#c0c0c0"/>
<rect x="964" y="610" width="1" height="41" fill="#c0c0c0"/>
<rect x="968" y="610" width="1" height="47" fill="#c0c0c0"/>
<rect x="972" y="610" width="1" height="51" fill="#c0c0c0"/>
<rect x="976" y="610" width="1" height="51" fill="#c0c0c0"/>
<rect x="980" y="610" width="1" height="51" fill="#c0c0c0"/>
<rect x="984" y="610" width="1" height="52" fill="#c0c0c0"/>
<rect x="988" y="610" width="1" height="48" fill="#c0c0c0"/>
<rect x="992" y="610" width="1" height="42" fill="#c0c0c0"/>
<rect x="996" y="610" width="1" height="37" fill="#c0c0c0"/>
<rect x="1000" y="610" width="1" height="33" fill="#c0c0c0"/>
<rect x="1004" y="610" width="1" height="29" fill="#c0c0c0"/>
<rect x="1008" y="610" width="1" height="22" fill="#c0c0c0"/>
<rect x="1012" y="610" width="1" height="17" fill="#c0c0c0"/>
<rect x="1016" y="610" width="1" height="11" fill="#c0c0c0"/>
<rect x="1020" y="610" width="1" height="6" fill="#c0c0c0"/>
<rect x="1024" y="610" width="1" height="5" fill="#c0c0c0"/>
<rect x="1028" y="610" width="1" height="4" fill="#c0c0c0"/>
<rect x="1032" y="610" width="1" height="5" fill="#c0c0c0"/>
<rect x="1036" y="610" width="1" height="8" fill="#c0c0c0"/>
<rect x="1040" y="610" width="1" height="9" fill="#c0c0c0"/>
<rect x="1044" y="610" width="1" height="7" fill="#c0c0c0"/>
<rect x="1048" y="610" width="1" height="7" fill="#c0c0c0"/>
<rect x="1052" y="610" width="1" height="8" fill="#c0c0c0"/>
<rect x="1056" y="610" width="1" height="11" fill="#c0c0c0"/>
<rect x="1060" y="610" width="1" height="12" fill="#c0c0c0"/>
<rect x="1064" y="610" width="1" height="12" fill="#c0c0c0"/>
<rect x="1068" y="610" width="1" height="10" fill="#c0c0c0"/>
<rect x="1072" y="610" width="1" height="9" fill="#c0c0c0"/>
<rect x="1076" y="610" width="1" height="5" fill="#c0c0c0"/>
<rect x="1080" y="610" width="1" height="1" fill="#c0c0c0"/>
<rect x="1084" y="608" width="1" height="3" fill="#c0c0c0"/>
<rect x="1088" y="606" width="1" height="5" fill="#c0c0c0"/>
<rect x="1092" y="605" width="1" height="6" fill="#c0c0c0"/>
<rect x="1096" y="603" width="1" height="8" fill="#c0c0c0"/>
<rect x="1100" y="603" width="1" height="8" fill="#c0c0c0"/>
<rect x="1104" y="610" width="1" height="1" fill="#c0c0c0"/>
<rect x="1108" y="610" width="1" height="2" fill="#c0c0c0"/>
<rect x="1112" y="610" width="1" height="12" fill="#c0c0c0"/>
<rect x="1116" y="610" width="1" height="15" fill="#c0c0c0"/>
<rect x="1120" y="610" width="1" height="20" fill="#c0c0c0"/>
<rect x="1124" y="610" width="1" height="24" fill="#c0c0c0"/>
<rect x="1128" y="610" width="1" height="26" fill="#c0c0c0"/>
<path d="M4 652h1v1h-1zM5 652h1v1h-1zM6 651h1v1h-1zM10 650h1v1h-1zM11 649h1v1h-1zM12 649h1v1h-1zM16 648h1v1h-1zM17 648h1v1h-1zM18 648h1v1h-1zM22 648h1v1h-1zM23 648h1v1h-1zM24 648h1v1h-1zM28 648h1v1h-1zM29 648h1v1h-1zM30 648h1v1h-1zM34 648h1v1h-1zM35 648h1v1h-1zM36 648h1v1h-1zM40 648h1v1h-1zM41 648h1v1h-1zM42 647h1v1h-1zM46 647h1v1h-1zM47 647h1v1h-1zM48 647h1v1h-1zM51 643h1v1h-1zM52 642h1v1h-1zM53 641h1v1h-1zM57 638h1v1h-1zM58 637h1v1h-1zM59 636h1v1h-1zM62 632h1v1h-1zM63 630h1v2h-1zM66 626h1v1h-1zM67 624h1v2h-1zM69 620h1v1h-1zM70 618h1v2h-1zM73 613h1v2h-1zM74 612h1v1h-1zM76 608h1v1h-1zM77 607h1v1h-1zM78 606h1v1h-1zM80 602h1v1h-1zM81 600h1v2h-1zM84 595h1v2h-1zM85 594h1v1h-1zM88 589h1v2h-1zM89 588h1v1h-1zM92 584h1v1h-1zM93 583h1v1h-1zM94 582h1v1h-1zM98 579h1v1h-1zM99 578h1v1h-1zM100 577h1v1h-1zM104 575h1v1h-1zM105 575h1v1h-1zM106 575h1v1h-1zM110 574h1v1h-1zM111 574h1v1h-1zM112 574h1v1h-1zM116 573h1v1h-1zM117 573h1v1h-1zM118 573h1v1h-1zM122 573h1v1h-1zM123 573h1v1h-1zM124 573h1v1h-1zM128 573h1v1h-1zM129 573h1v1h-1zM130 573h1v1h-1zM134 573h1v1h-1zM135 573h1v1h-1zM136 573h1v1h-1zM140 573h1v1h-1zM141 573h1v1h-1zM142 573h1v1h-1zM146 573h1v1h-1zM147 573h1v1h-1zM148 573h1v1h-1zM152 572h1v1h-1zM153 572h1v1h-1zM154 572h1v1h-1zM158 572h1v1h-1zM159 572h1v1h-1zM160 572h1v1h-1zM164 572h1v1h-1zM165 573h1v1h-1zM166 573h1v1h-1zM170 573h1v1h-1zM171 573h1v1h-1zM172 573h1v1h-1zM176 573h1v1h-1zM177 573h1v1h-1zM178 573h1v1h-1zM182 573h1v1h-1zM183 573h1v1h-1zM184 573h1v1h-1zM188 573h1v1h-1zM189 573h1v1h-1zM190 573h1v1h-1zM194 574h1v1h-1zM195 574h1v1h-1zM196 574h1v1h-1zM200 575h1v1h-1zM201 575h1v1h-1zM202 576h1v1h-1zM206 577h1v1h-1zM207 577h1v1h-1zM208 577h1v1h-1zM212 578h1v1h-1zM213 578h1v1h-1zM214 578h1v1h-1zM218 579h1v1h-1zM219 579h1v1h-1zM220 579h1v1h-1zM224 581h1v1h-1zM225 582h1v1h-1zM226 582h1v1h-1zM230 585h1v1h-1zM231 586h1v1h-1zM232 587h1v1h-1zM236 591h1v1h-1zM237 592h1v1h-1zM238 593h1v1h-1zM242 597h1v1h-1zM243 598h1v1h-1zM244 599h1v1h-1zM248 602h1v1h-1zM249 603h1v1h-1zM250 603h1v1h-1zM254 606h1v1h-1zM255 607h1v1h-1zM256 607h1v1h-1zM260 610h1v1h-1zM261 610h1v1h-1zM262 611h1v1h-1zM266 612h1v1h-1zM267 612h1v1h-1zM268 612h1v1h-1zM272 613h1v1h-1zM273 613h1v1h-1zM274 613h1v1h-1zM278 613h1v1h-1zM279 614h1v1h-1zM280 614h1v1h-1zM284 614h1v1h-1zM285 614h1v1h-1zM286 614h1v1h-1zM290 615h1v1h-1zM291 615h1v1h-1zM292 615h1v1h-1zM296 617h1v1h-1zM297 617h1v1h-1zM298 617h1v1h-1zM302 619h1v1h-1zM303 619h1v1h-1zM304 619h1v1h-1zM308 620h1v1h-1zM309 620h1v1h-1zM310 621h1v1h-1zM314 622h1v1h-1zM315 622h1v1h-1zM316 622h1v1h-1zM320 622h1v1h-1zM321 622h1v1h-1zM322 622h1v1h-1zM326 622h1v1h-1zM327 622h1v1h-1zM328 622h1v1h-1zM332 622h1v1h-1zM333 622h1v1h-1zM334 621h1v1h-1zM338 620h1v1h-1zM339 620h1v1h-1zM340 620h1v1h-1zM344 620h1v1h-1zM345 620h1v1h-1zM346 620h1v1h-1zM350 621h1v1h-1zM351 621h1v1h-1zM352 621h1v1h-1zM356 622h1v1h-1zM357 622h1v1h-1zM358 622h1v1h-1zM362 623h1v1h-1zM363 623h1v1h-1zM364 623h1v1h-1zM368 624h1v1h-1zM369 624h1v1h-1zM370 624h1v1h-1zM374 625h1v1h-1zM375 626h1v1h-1zM376 626h1v1h-1zM380 628h1v1h-1zM381 628h1v1h-1zM382 628h1v1h-1zM386 628h1v1h-1zM387 628h1v1h-1zM388 628h1v1h-1zM392 628h1v1h-1zM393 629h1v1h-1zM394 629h1v1h-1zM398 631h1v1h-1zM399 632h1v1h-1zM400 632h1v1h-1zM404 632h1v1h-1zM405 632h1v1h-1zM406 632h1v1h-1zM410 632h1v1h-1zM411 632h1v1h-1zM412 632h1v1h-1zM416 632h1v1h-1zM417 632h1v1h-1zM418 632h1v1h-1zM422 632h1v1h-1zM423 632h1v1h-1zM424 632h1v1h-1zM428 631h1v1h-1zM429 630h1v1h-1zM430 630h1v1h-1zM434 629h1v1h-1zM435 628h1v1h-1zM436 628h1v1h-1zM440 624h1v1h-1zM441 623h1v1h-1zM442 622h1v1h-1zM446 619h1v1h-1zM447 618h1v1h-1zM448 617h1v1h-1zM452 613h1v1h-1zM453 612h1v1h-1zM454 611h1v1h-1zM458 607h1v1h-1zM459 606h1v1h-1zM460 605h1v1h-1zM464 602h1v1h-1zM465 601h1v1h-1zM466 600h1v1h-1zM470 598h1v1h-1zM471 598h1v1h-1zM472 598h1v1h-1zM476 598h1v1h-1zM477 598h1v1h-1zM478 598h1v1h-1zM482 598h1v1h-1zM483 598h1v1h-1zM484 598h1v1h-1zM488 598h1v1h-1zM489 598h1v1h-1zM490 597h1v1h-1zM494 597h1v1h-1zM495 597h1v1h-1zM496 597h1v1h-1zM500 597h1v1h-1zM501 597h1v1h-1zM502 596h1v1h-1zM506 595h1v1h-1zM507 595h1v1h-1zM508 595h1v1h-1zM512 593h1v1h-1zM513 593h1v1h-1zM514 593h1v1h-1zM518 591h1v1h-1zM519 591h1v1h-1zM520 591h1v1h-1zM524 590h1v1h-1zM525 589h1v1h-1zM526 589h1v1h-1zM530 587h1v1h-1zM531 587h1v1h-1zM532 587h1v1h-1zM536 586h1v1h-1zM537 586h1v1h-1zM538 586h1v1h-1zM542 586h1v1h-1zM543 586h1v1h-1zM544 586h1v1h-1zM548 586h1v1h-1zM549 586h1v1h-1zM550 586h1v1h-1zM554 587h1v1h-1zM555 587h1v1h-1zM556 587h1v1h-1zM560 589h1v1h-1zM561 590h1v1h-1zM562 590h1v1h-1zM566 592h1v1h-1zM567 593h1v1h-1zM568 593h1v1h-1zM572 595h1v1h-1zM573 596h1v1h-1zM574 596h1v1h-1zM578 598h1v1h-1zM579 599h1v1h-1zM580 599h1v1h-1zM584 601h1v1h-1zM585 602h1v1h-1zM586 602h1v1h-1zM590 604h1v1h-1zM591 604h1v1h-1zM592 604h1v1h-1zM596 604h1v1h-1zM597 604h1v1h-1zM598 604h1v1h-1zM602 604h1v1h-1zM603 604h1v1h-1zM604 604h1v1h-1zM608 603h1v1h-1zM609 602h1v1h-1zM610 602h1v1h-1zM614 601h1v1h-1zM615 600h1v1h-1zM616 600h1v1h-1zM620 599h1v1h-1zM621 598h1v1h-1zM622 598h1v1h-1zM626 597h1v1h-1zM627 596h1v1h-1zM628 596h1v1h-1zM632 596h1v1h-1zM633 596h1v1h-1zM634 596h1v1h-1zM638 598h1v1h-1zM639 599h1v1h-1zM640 599h1v1h-1zM644 601h1v1h-1zM645 602h1v1h-1zM646 602h1v1h-1zM650 605h1v1h-1zM651 605h1v1h-1zM652 606h1v1h-1zM656 609h1v1h-1zM657 610h1v1h-1zM658 611h1v1h-1zM662 614h1v1h-1zM663 615h1v1h-1zM664 616h1v1h-1zM668 619h1v1h-1zM669 619h1v1h-1zM670 620h1v1h-1zM674 622h1v1h-1zM675 623h1v1h-1zM676 623h1v1h-1zM680 624h1v1h-1zM681 624h1v1h-1zM682 624h1v1h-1zM686 624h1v1h-1zM687 624h1v1h-1zM688 624h1v1h-1zM692 624h1v1h-1zM693 624h1v1h-1zM694 623h1v1h-1zM698 622h1v1h-1zM699 622h1v1h-1zM700 621h1v1h-1zM704 620h1v1h-1zM705 620h1v1h-1zM706 619h1v1h-1zM710 618h1v1h-1zM711 618h1v1h-1zM712 618h1v1h-1zM716 616h1v1h-1zM717 615h1v1h-1zM718 615h1v1h-1zM722 613h1v1h-1zM723 613h1v1h-1zM724 613h1v1h-1zM728 611h1v1h-1zM729 610h1v1h-1zM730 610h1v1h-1zM734 608h1v1h-1zM735 607h1v1h-1zM736 607h1v1h-1zM740 605h1v1h-1zM741 604h1v1h-1zM742 604h1v1h-1zM746 601h1v1h-1zM747 600h1v1h-1zM748 599h1v1h-1zM752 596h1v1h-1zM753 596h1v1h-1zM754 595h1v1h-1zM758 592h1v1h-1zM759 591h1v1h-1zM760 590h1v1h-1zM764 587h1v1h-1zM765 587h1v1h-1zM766 586h1v1h-1zM770 582h1v1h-1zM771 582h1v1h-1zM772 581h1v1h-1zM776 578h1v1h-1zM777 577h1v1h-1zM778 576h1v1h-1zM782 574h1v1h-1zM783 574h1v1h-1zM784 574h1v1h-1zM788 573h1v1h-1zM789 572h1v1h-1zM790 572h1v1h-1zM794 573h1v1h-1zM795 573h1v1h-1zM796 573h1v1h-1zM800 574h1v1h-1zM801 575h1v1h-1zM802 575h1v1h-1zM806 576h1v1h-1zM807 576h1v1h-1zM808 577h1v1h-1zM812 578h1v1h-1zM813 579h1v1h-1zM814 580h1v1h-1zM818 583h1v1h-1zM819 583h1v1h-1zM820 584h1v1h-1zM824 587h1v1h-1zM825 588h1v1h-1zM826 589h1v1h-1zM830 592h1v1h-1zM831 592h1v1h-1zM832 593h1v1h-1zM836 596h1v1h-1zM837 597h1v1h-1zM838 598h1v1h-1zM842 601h1v1h-1zM843 601h1v1h-1zM844 602h1v1h-1zM848 605h1v1h-1zM849 605h1v1h-1zM850 606h1v1h-1zM854 609h1v1h-1zM855 609h1v1h-1zM856 610h1v1h-1zM860 612h1v1h-1zM861 613h1v1h-1zM862 613h1v1h-1zM866 615h1v1h-1zM867 616h1v1h-1zM868 616h1v1h-1zM872 618h1v1h-1zM873 619h1v1h-1zM874 619h1v1h-1zM878 621h1v1h-1zM879 621h1v1h-1zM880 621h1v1h-1zM884 622h1v1h-1zM885 622h1v1h-1zM886 623h1v1h-1zM890 624h1v1h-1zM891 624h1v1h-1zM892 624h1v1h-1zM896 626h1v1h-1zM897 627h1v1h-1zM898 627h1v1h-1zM902 629h1v1h-1zM903 630h1v1h-1zM904 630h1v1h-1zM908 632h1v1h-1zM909 633h1v1h-1zM910 633h1v1h-1zM914 636h1v1h-1zM915 636h1v1h-1zM916 637h1v1h-1zM920 640h1v1h-1zM921 640h1v1h-1zM922 641h1v1h-1zM926 643h1v1h-1zM927 644h1v1h-1zM928 644h1v1h-1zM932 645h1v1h-1zM933 646h1v1h-1zM934 646h1v1h-1zM938 645h1v1h-1zM939 645h1v1h-1zM940 645h1v1h-1zM944 643h1v1h-1zM945 642h1v1h-1zM946 642h1v1h-1zM950 640h1v1h-1zM951 639h1v1h-1zM952 639h1v1h-1zM956 637h1v1h-1zM957 636h1v1h-1zM958 636h1v1h-1zM962 636h1v1h-1zM963 637h1v1h-1zM964 637h1v1h-1zM968 639h1v1h-1zM969 640h1v1h-1zM970 640h1v1h-1zM974 642h1v1h-1zM975 643h1v1h-1zM976 644h1v1h-1zM980 648h1v1h-1zM981 649h1v1h-1zM982 650h1v1h-1zM986 654h1v1h-1zM987 655h1v1h-1zM988 655h1v1h-1zM992 656h1v1h-1zM993 656h1v1h-1zM994 656h1v1h-1zM998 656h1v1h-1zM999 656h1v1h-1zM1000 656h1v1h-1zM1004 653h1v1h-1zM1005 653h1v1h-1zM1006 652h1v1h-1zM1010 648h1v1h-1zM1011 647h1v1h-1zM1012 646h1v1h-1zM1016 642h1v1h-1zM1017 641h1v1h-1zM1018 640h1v1h-1zM1022 636h1v1h-1zM1023 635h1v1h-1zM1024 634h1v1h-1zM1027 630h1v1h-1zM1028 629h1v1h-1zM1029 628h1v1h-1zM1033 624h1v1h-1zM1034 623h1v1h-1zM1035 622h1v1h-1zM1039 619h1v1h-1zM1040 619h1v1h-1zM1041 618h1v1h-1zM1045 617h1v1h-1zM1046 617h1v1h-1zM1047 616h1v1h-1zM1051 616h1v1h-1zM1052 616h1v1h-1zM1053 616h1v1h-1zM1057 617h1v1h-1zM1058 617h1v1h-1zM1059 617h1v1h-1zM1063 619h1v1h-1zM1064 619h1v1h-1zM1065 619h1v1h-1zM1069 620h1v1h-1zM1070 620h1v1h-1zM1071 620h1v1h-1zM1075 620h1v1h-1zM1076 620h1v1h-1zM1077 620h1v1h-1zM1081 618h1v1h-1zM1082 618h1v1h-1zM1083 617h1v1h-1zM1087 616h1v1h-1zM1088 615h1v1h-1zM1089 615h1v1h-1zM1093 613h1v1h-1zM1094 613h1v1h-1zM1095 612h1v1h-1zM1099 610h1v1h-1zM1100 610h1v1h-1zM1101 609h1v1h-1zM1105 608h1v1h-1zM1106 608h1v1h-1zM1107 608h1v1h-1zM1111 608h1v1h-1zM1112 609h1v1h-1zM1113 609h1v1h-1zM1117 611h1v1h-1zM1118 611h1v1h-1zM1119 612h1v1h-1zM1123 614h1v1h-1zM1124 615h1v1h-1zM1125 616h1v1h-1z" fill="#ff0000"/>
</g>
<text x="8" y="577" font-size="10" fill="#000" textLength="154" lengthAdjust="spacingAndGlyphs">MACD(12,26,9) -0.003425 -0.001125</text>
<text x="8" y="681" font-size="10" fill="#000" textLength="67" lengthAdjust="spacingAndGlyphs">RSI(14) 37.4901</text>
<path d="M4 708.5 H1419" stroke="#c0c0c0" stroke-width="1" stroke-dasharray="3 3" fill="none"/>
<path d="M4 759.5 H1419" stroke="#c0c0c0" stroke-width="1" stroke-dasharray="3 3" fill="none"/>
<rect x="1420" y="670" width="1" height="1" fill="#000"/>
<text x="1423.2" y="679.5" font-size="10" fill="#000" textLength="14.5" lengthAdjust="spacingAndGlyphs">100</text>
<text x="1423.2" y="712.5" font-size="10" fill="#000" textLength="9.5" lengthAdjust="spacingAndGlyphs">70</text>
<text x="1423.2" y="763.5" font-size="10" fill="#000" textLength="9.5" lengthAdjust="spacingAndGlyphs">30</text>
<rect x="1420" y="797" width="1" height="1" fill="#000"/>
<text x="1424" y="795" font-size="10" fill="#000" textLength="4.8" lengthAdjust="spacingAndGlyphs">0</text>
<g id="rsi">
<path d="M4 751h1v1h-1zM5 751h1v1h-1zM6 750h1v1h-1zM7 750h1v1h-1zM8 750h1v1h-1zM9 751h1v2h-1zM10 753h1v1h-1zM11 754h1v2h-1zM12 756h1v1h-1zM13 755h1v1h-1zM14 754h1v1h-1zM15 754h1v1h-1zM16 753h1v1h-1zM17 751h1v2h-1zM18 749h1v2h-1zM19 747h1v2h-1zM20 746h1v1h-1zM21 747h1v2h-1zM22 749h1v2h-1zM23 751h1v2h-1zM24 753h1v2h-1zM25 755h1v2h-1zM26 756h1v1h-1zM27 756h1v1h-1zM28 756h1v1h-1zM29 756h1v1h-1zM30 756h1v1h-1zM31 756h1v1h-1zM32 755h1v2h-1zM33 752h1v3h-1zM34 749h1v3h-1zM35 746h1v3h-1zM36 744h1v2h-1zM37 743h1v1h-1zM38 743h1v1h-1zM39 742h1v1h-1zM40 742h1v1h-1zM41 742h1v1h-1zM42 742h1v1h-1zM43 742h1v1h-1zM44 740h1v3h-1zM45 735h1v5h-1zM46 730h1v5h-1zM47 725h1v5h-1zM48 722h1v3h-1zM49 721h1v1h-1zM50 721h1v1h-1zM51 720h1v1h-1zM52 720h1v1h-1zM53 719h1v1h-1zM54 719h1v1h-1zM55 718h1v1h-1zM56 717h1v1h-1zM57 717h1v1h-1zM58 716h1v1h-1zM59 716h1v1h-1zM60 715h1v1h-1zM61 715h1v1h-1zM62 715h1v1h-1zM63 715h1v1h-1zM64 714h1v1h-1zM65 714h1v1h-1zM66 712h1v2h-1zM67 710h1v2h-1zM68 708h1v2h-1zM69 706h1v2h-1zM70 706h1v1h-1zM71 707h1v1h-1zM72 707h1v1h-1zM73 707h1v1h-1zM74 707h1v1h-1zM75 707h1v1h-1zM76 707h1v1h-1zM77 707h1v1h-1zM78 707h1v1h-1zM79 707h1v1h-1zM80 707h1v1h-1zM81 707h1v1h-1zM82 706h1v1h-1zM83 706h1v1h-1zM84 706h1v1h-1zM85 706h1v1h-1zM86 707h1v1h-1zM87 707h1v1h-1zM88 707h1v2h-1zM89 709h1v2h-1zM90 711h1v3h-1zM91 714h1v2h-1zM92 716h1v2h-1zM93 716h1v1h-1zM94 716h1v1h-1zM95 715h1v1h-1zM96 715h1v1h-1zM97 714h1v1h-1zM98 714h1v1h-1zM99 714h1v1h-1zM100 714h1v1h-1zM101 714h1v1h-1zM102 714h1v1h-1zM103 714h1v1h-1zM104 714h1v1h-1zM105 714h1v2h-1zM106 716h1v2h-1zM107 718h1v3h-1zM108 721h1v2h-1zM109 723h1v2h-1zM110 722h1v2h-1zM111 720h1v2h-1zM112 719h1v1h-1zM113 717h1v2h-1zM114 715h1v2h-1zM115 713h1v2h-1zM116 712h1v1h-1zM117 712h1v1h-1zM118 711h1v1h-1zM119 711h1v1h-1zM120 711h1v1h-1zM121 710h1v1h-1zM122 710h1v1h-1zM123 710h1v1h-1zM124 709h1v1h-1zM125 709h1v1h-1zM126 710h1v1h-1zM127 710h1v1h-1zM128 711h1v1h-1zM129 711h1v1h-1zM130 712h1v1h-1zM131 712h1v1h-1zM132 712h1v1h-1zM133 713h1v1h-1zM134 714h1v1h-1zM135 715h1v1h-1zM136 716h1v1h-1zM137 715h1v1h-1zM138 714h1v1h-1zM139 713h1v1h-1zM140 712h1v1h-1zM141 712h1v1h-1zM142 711h1v1h-1zM143 710h1v1h-1zM144 709h1v1h-1zM145 710h1v2h-1zM146 712h1v1h-1zM147 713h1v1h-1zM148 714h1v2h-1zM149 716h1v1h-1zM150 716h1v1h-1zM151 715h1v1h-1zM152 715h1v1h-1zM153 715h1v1h-1zM154 713h1v2h-1zM155 712h1v1h-1zM156 710h1v2h-1zM157 709h1v1h-1zM158 708h1v1h-1zM159 707h1v1h-1zM160 706h1v1h-1zM161 704h1v2h-1zM162 703h1v1h-1zM163 702h1v1h-1zM164 701h1v3h-1zM165 704h1v4h-1zM166 708h1v4h-1zM167 712h1v4h-1zM168 716h1v3h-1zM169 717h1v1h-1zM170 716h1v1h-1zM171 715h1v1h-1zM172 714h1v1h-1zM173 715h1v2h-1zM174 717h1v1h-1zM175 718h1v2h-1zM176 720h1v1h-1zM177 719h1v1h-1zM178 719h1v1h-1zM179 718h1v1h-1zM180 718h1v1h-1zM181 719h1v2h-1zM182 721h1v1h-1zM183 722h1v2h-1zM184 724h1v1h-1zM185 724h1v1h-1zM186 724h1v1h-1zM187 723h1v1h-1zM188 723h1v1h-1zM189 723h1v1h-1zM190 722h1v1h-1zM191 720h1v2h-1zM192 719h1v1h-1zM193 718h1v1h-1zM194 718h1v1h-1zM195 718h1v1h-1zM196 718h1v1h-1zM197 718h1v1h-1zM198 718h1v1h-1zM199 718h1v1h-1zM200 718h1v1h-1zM201 716h1v2h-1zM202 714h1v2h-1zM203 712h1v2h-1zM204 711h1v2h-1zM205 713h1v2h-1zM206 715h1v3h-1zM207 718h1v2h-1zM208 720h1v2h-1zM209 721h1v1h-1zM210 721h1v1h-1zM211 721h1v1h-1zM212 721h1v1h-1zM213 721h1v1h-1zM214 721h1v1h-1zM215 720h1v1h-1zM216 720h1v2h-1zM217 722h1v4h-1zM218 726h1v3h-1zM219 729h1v4h-1zM220 733h1v2h-1zM221 735h1v1h-1zM222 735h1v1h-1zM223 736h1v1h-1zM224 736h1v1h-1zM225 737h1v2h-1zM226 739h1v2h-1zM227 741h1v2h-1zM228 743h1v2h-1zM229 745h1v2h-1zM230 745h1v1h-1zM231 745h1v1h-1zM232 744h1v1h-1zM233 744h1v1h-1zM234 744h1v1h-1zM235 744h1v1h-1zM236 744h1v1h-1zM237 744h1v1h-1zM238 744h1v1h-1zM239 744h1v1h-1zM240 744h1v1h-1zM241 742h1v2h-1zM242 740h1v2h-1zM243 738h1v2h-1zM244 737h1v1h-1zM245 737h1v1h-1zM246 737h1v1h-1zM247 737h1v1h-1zM248 737h1v1h-1zM249 737h1v1h-1zM250 736h1v1h-1zM251 736h1v1h-1zM252 735h1v1h-1zM253 735h1v1h-1zM254 735h1v1h-1zM255 734h1v1h-1zM256 734h1v2h-1zM257 736h1v3h-1zM258 739h1v2h-1zM259 741h1v3h-1zM260 744h1v2h-1zM261 743h1v2h-1zM262 741h1v2h-1zM263 740h1v1h-1zM264 738h1v2h-1zM265 736h1v2h-1zM266 735h1v1h-1zM267 733h1v2h-1zM268 731h1v2h-1zM269 730h1v1h-1zM270 731h1v1h-1zM271 732h1v1h-1zM272 732h1v1h-1zM273 733h1v1h-1zM274 733h1v1h-1zM275 734h1v1h-1zM276 734h1v1h-1zM277 734h1v1h-1zM278 734h1v1h-1zM279 735h1v1h-1zM280 735h1v1h-1zM281 735h1v1h-1zM282 736h1v1h-1zM283 736h1v1h-1zM284 737h1v2h-1zM285 739h1v2h-1zM286 741h1v1h-1zM287 742h1v2h-1zM288 744h1v2h-1zM289 746h1v1h-1zM290 747h1v2h-1zM291 749h1v2h-1zM292 751h1v1h-1zM293 751h1v1h-1zM294 751h1v1h-1zM295 751h1v1h-1zM296 750h1v1h-1zM297 750h1v1h-1zM298 750h1v1h-1zM299 750h1v1h-1zM300 750h1v1h-1zM301 748h1v2h-1zM302 746h1v2h-1zM303 744h1v2h-1zM304 742h1v2h-1zM305 740h1v2h-1zM306 740h1v1h-1zM307 741h1v1h-1zM308 741h1v1h-1zM309 740h1v1h-1zM310 739h1v1h-1zM311 739h1v1h-1zM312 738h1v1h-1zM313 736h1v2h-1zM314 734h1v2h-1zM315 732h1v2h-1zM316 730h1v2h-1zM317 729h1v1h-1zM318 729h1v1h-1zM319 729h1v1h-1zM320 729h1v2h-1zM321 731h1v2h-1zM322 733h1v2h-1zM323 735h1v2h-1zM324 737h1v2h-1zM325 739h1v2h-1zM326 741h1v1h-1zM327 741h1v1h-1zM328 742h1v1h-1zM329 742h1v1h-1zM330 741h1v1h-1zM331 739h1v2h-1zM332 738h1v1h-1zM333 737h1v2h-1zM334 739h1v3h-1zM335 742h1v4h-1zM336 746h1v3h-1zM337 748h1v3h-1zM338 744h1v4h-1zM339 740h1v4h-1zM340 736h1v4h-1zM341 733h1v3h-1zM342 733h1v1h-1zM343 734h1v1h-1zM344 734h1v2h-1zM345 736h1v3h-1zM346 739h1v4h-1zM347 743h1v3h-1zM348 746h1v2h-1zM349 747h1v1h-1zM350 746h1v1h-1zM351 746h1v1h-1zM352 745h1v2h-1zM353 741h1v4h-1zM354 738h1v3h-1zM355 734h1v4h-1zM356 732h1v2h-1zM357 734h1v2h-1zM358 736h1v3h-1zM359 739h1v2h-1zM360 741h1v2h-1zM361 743h1v1h-1zM362 743h1v1h-1zM363 744h1v1h-1zM364 744h1v1h-1zM365 745h1v1h-1zM366 745h1v1h-1zM367 746h1v1h-1zM368 746h1v1h-1zM369 747h1v1h-1zM370 748h1v1h-1zM371 748h1v1h-1zM372 749h1v1h-1zM373 748h1v1h-1zM374 748h1v1h-1zM375 747h1v1h-1zM376 746h1v2h-1zM377 743h1v3h-1zM378 740h1v3h-1zM379 737h1v3h-1zM380 735h1v2h-1zM381 736h1v1h-1zM382 737h1v1h-1zM383 737h1v1h-1zM384 738h1v1h-1zM385 739h1v1h-1zM386 739h1v1h-1zM387 740h1v1h-1zM388 740h1v1h-1zM389 740h1v1h-1zM390 740h1v1h-1zM391 740h1v1h-1zM392 740h1v2h-1zM393 742h1v2h-1zM394 744h1v2h-1zM395 746h1v2h-1zM396 748h1v2h-1zM397 748h1v1h-1zM398 748h1v1h-1zM399 747h1v1h-1zM400 747h1v1h-1zM401 748h1v2h-1zM402 750h1v2h-1zM403 752h1v2h-1zM404 752h1v3h-1zM405 748h1v4h-1zM406 744h1v4h-1zM407 740h1v4h-1zM408 737h1v3h-1zM409 737h1v1h-1zM410 737h1v1h-1zM411 737h1v1h-1zM412 737h1v1h-1zM413 737h1v1h-1zM414 737h1v1h-1zM415 737h1v1h-1zM416 737h1v1h-1zM417 738h1v1h-1zM418 739h1v1h-1zM419 740h1v1h-1zM420 740h1v2h-1zM421 738h1v2h-1zM422 736h1v2h-1zM423 734h1v2h-1zM424 732h1v2h-1zM425 731h1v1h-1zM426 730h1v1h-1zM427 729h1v1h-1zM428 728h1v1h-1zM429 727h1v1h-1zM430 726h1v1h-1zM431 725h1v1h-1zM432 725h1v1h-1zM433 724h1v1h-1zM434 723h1v1h-1zM435 723h1v1h-1zM436 723h1v1h-1zM437 723h1v1h-1zM438 722h1v1h-1zM439 722h1v1h-1zM440 722h1v1h-1zM441 722h1v1h-1zM442 721h1v1h-1zM443 721h1v1h-1zM444 720h1v1h-1zM445 720h1v1h-1zM446 720h1v1h-1zM447 721h1v1h-1zM448 721h1v1h-1zM449 721h1v1h-1zM450 722h1v2h-1zM451 724h1v2h-1zM452 726h1v1h-1zM453 725h1v1h-1zM454 725h1v1h-1zM455 724h1v1h-1zM456 724h1v1h-1zM457 725h1v1h-1zM458 726h1v1h-1zM459 727h1v1h-1zM460 728h1v1h-1zM461 729h1v1h-1zM462 729h1v1h-1zM463 730h1v1h-1zM464 730h1v1h-1zM465 730h1v1h-1zM466 731h1v1h-1zM467 731h1v1h-1zM468 731h1v1h-1zM469 730h1v1h-1zM470 728h1v2h-1zM471 727h1v1h-1zM472 726h1v1h-1zM473 727h1v1h-1zM474 727h1v1h-1zM475 728h1v1h-1zM476 728h1v1h-1zM477 728h1v1h-1zM478 729h1v1h-1zM479 729h1v1h-1zM480 729h1v1h-1zM481 728h1v1h-1zM482 727h1v1h-1zM483 727h1v1h-1zM484 726h1v1h-1zM485 726h1v1h-1zM486 725h1v1h-1zM487 725h1v1h-1zM488 725h1v1h-1zM489 724h1v1h-1zM490 723h1v1h-1zM491 722h1v1h-1zM492 721h1v1h-1zM493 720h1v1h-1zM494 719h1v1h-1zM495 718h1v1h-1zM496 718h1v1h-1zM497 717h1v1h-1zM498 716h1v1h-1zM499 714h1v2h-1zM500 713h1v1h-1zM501 712h1v1h-1zM502 712h1v1h-1zM503 712h1v1h-1zM504 712h1v1h-1zM505 713h1v2h-1zM506 715h1v2h-1zM507 717h1v2h-1zM508 719h1v2h-1zM509 721h1v1h-1zM510 721h1v1h-1zM511 722h1v1h-1zM512 722h1v1h-1zM513 720h1v2h-1zM514 718h1v2h-1zM515 716h1v2h-1zM516 714h1v2h-1zM517 713h1v1h-1zM518 712h1v1h-1zM519 711h1v1h-1zM520 711h1v1h-1zM521 710h1v1h-1zM522 709h1v1h-1zM523 708h1v1h-1zM524 707h1v1h-1zM525 706h1v2h-1zM526 708h1v4h-1zM527 712h1v4h-1zM528 716h1v3h-1zM529 718h1v1h-1zM530 718h1v1h-1zM531 718h1v1h-1zM532 718h1v1h-1zM533 718h1v1h-1zM534 718h1v1h-1zM535 719h1v1h-1zM536 719h1v1h-1zM537 719h1v1h-1zM538 719h1v1h-1zM539 719h1v1h-1zM540 719h1v1h-1zM541 720h1v2h-1zM542 722h1v2h-1zM543 724h1v2h-1zM544 726h1v2h-1zM545 728h1v2h-1zM546 730h1v1h-1zM547 730h1v1h-1zM548 731h1v1h-1zM549 731h1v1h-1zM550 731h1v1h-1zM551 730h1v1h-1zM552 730h1v1h-1zM553 731h1v1h-1zM554 731h1v1h-1zM555 732h1v1h-1zM556 732h1v1h-1zM557 733h1v1h-1zM558 733h1v1h-1zM559 733h1v1h-1zM560 733h1v1h-1zM561 733h1v1h-1zM562 733h1v1h-1zM563 733h1v1h-1zM564 733h1v1h-1zM565 733h1v1h-1zM566 733h1v1h-1zM567 733h1v1h-1zM568 734h1v1h-1zM569 733h1v1h-1zM570 732h1v1h-1zM571 732h1v1h-1zM572 731h1v1h-1zM573 730h1v2h-1zM574 732h1v3h-1zM575 735h1v3h-1zM576 738h1v3h-1zM577 741h1v2h-1zM578 740h1v2h-1zM579 738h1v2h-1zM580 736h1v2h-1zM581 734h1v2h-1zM582 735h1v1h-1zM583 735h1v1h-1zM584 736h1v1h-1zM585 735h1v1h-1zM586 735h1v1h-1zM587 734h1v1h-1zM588 733h1v2h-1zM589 730h1v3h-1zM590 726h1v4h-1zM591 723h1v3h-1zM592 721h1v2h-1zM593 721h1v1h-1zM594 721h1v1h-1zM595 721h1v1h-1zM596 720h1v2h-1zM597 717h1v3h-1zM598 714h1v3h-1zM599 711h1v3h-1zM600 709h1v2h-1zM601 710h1v2h-1zM602 712h1v2h-1zM603 714h1v2h-1zM604 716h1v2h-1zM605 718h1v2h-1zM606 719h1v1h-1zM607 718h1v1h-1zM608 718h1v1h-1zM609 718h1v1h-1zM610 717h1v1h-1zM611 716h1v1h-1zM612 715h1v1h-1zM613 716h1v2h-1zM614 718h1v2h-1zM615 720h1v2h-1zM616 722h1v2h-1zM617 724h1v2h-1zM618 726h1v2h-1zM619 728h1v2h-1zM620 730h1v2h-1zM621 732h1v1h-1zM622 732h1v1h-1zM623 733h1v1h-1zM624 733h1v1h-1zM625 733h1v1h-1zM626 734h1v1h-1zM627 734h1v1h-1zM628 735h1v1h-1zM629 735h1v1h-1zM630 735h1v1h-1zM631 736h1v1h-1zM632 736h1v1h-1zM633 736h1v1h-1zM634 737h1v1h-1zM635 737h1v1h-1zM636 738h1v1h-1zM637 738h1v1h-1zM638 739h1v2h-1zM639 741h1v1h-1zM640 742h1v2h-1zM641 744h1v2h-1zM642 746h1v4h-1zM643 750h1v4h-1zM644 754h1v3h-1zM645 756h1v1h-1zM646 755h1v1h-1zM647 755h1v1h-1zM648 754h1v1h-1zM649 753h1v2h-1zM650 751h1v2h-1zM651 749h1v2h-1zM652 747h1v2h-1zM653 747h1v1h-1zM654 748h1v1h-1zM655 748h1v1h-1zM656 748h1v1h-1zM657 749h1v1h-1zM658 749h1v1h-1zM659 750h1v1h-1zM660 750h1v1h-1zM661 751h1v1h-1zM662 750h1v1h-1zM663 748h1v2h-1zM664 747h1v1h-1zM665 746h1v1h-1zM666 745h1v1h-1zM667 745h1v1h-1zM668 744h1v1h-1zM669 744h1v1h-1zM670 744h1v1h-1zM671 743h1v1h-1zM672 743h1v1h-1zM673 743h1v1h-1zM674 742h1v1h-1zM675 741h1v1h-1zM676 741h1v1h-1zM677 740h1v1h-1zM678 741h1v1h-1zM679 741h1v1h-1zM680 741h1v2h-1zM681 739h1v2h-1zM682 737h1v2h-1zM683 734h1v3h-1zM684 732h1v2h-1zM685 730h1v2h-1zM686 731h1v1h-1zM687 732h1v1h-1zM688 733h1v1h-1zM689 734h1v1h-1zM690 735h1v1h-1zM691 735h1v1h-1zM692 736h1v1h-1zM693 734h1v2h-1zM694 732h1v2h-1zM695 730h1v2h-1zM696 729h1v1h-1zM697 729h1v1h-1zM698 729h1v1h-1zM699 729h1v1h-1zM700 729h1v1h-1zM701 729h1v1h-1zM702 728h1v1h-1zM703 728h1v1h-1zM704 728h1v1h-1zM705 729h1v1h-1zM706 729h1v1h-1zM707 730h1v1h-1zM708 730h1v1h-1zM709 731h1v1h-1zM710 731h1v1h-1zM711 730h1v1h-1zM712 730h1v1h-1zM713 730h1v1h-1zM714 728h1v2h-1zM715 726h1v2h-1zM716 724h1v2h-1zM717 723h1v1h-1zM718 722h1v1h-1zM719 722h1v1h-1zM720 721h1v1h-1zM721 721h1v1h-1zM722 721h1v1h-1zM723 721h1v1h-1zM724 721h1v1h-1zM725 721h1v1h-1zM726 722h1v1h-1zM727 722h1v1h-1zM728 723h1v1h-1zM729 723h1v1h-1zM730 722h1v1h-1zM731 721h1v1h-1zM732 720h1v1h-1zM733 718h1v2h-1zM734 716h1v2h-1zM735 714h1v2h-1zM736 712h1v2h-1zM737 710h1v2h-1zM738 708h1v2h-1zM739 707h1v1h-1zM740 705h1v2h-1zM741 704h1v1h-1zM742 702h1v2h-1zM743 700h1v2h-1zM744 698h1v2h-1zM745 699h1v1h-1zM746 700h1v1h-1zM747 700h1v1h-1zM748 701h1v1h-1zM749 701h1v1h-1zM750 701h1v1h-1zM751 700h1v1h-1zM752 700h1v1h-1zM753 700h1v1h-1zM754 698h1v2h-1zM755 697h1v1h-1zM756 695h1v2h-1zM757 694h1v1h-1zM758 694h1v1h-1zM759 694h1v1h-1zM760 694h1v1h-1zM761 694h1v1h-1zM762 695h1v1h-1zM763 695h1v1h-1zM764 696h1v1h-1zM765 697h1v1h-1zM766 698h1v1h-1zM767 698h1v1h-1zM768 699h1v1h-1zM769 700h1v1h-1zM770 700h1v1h-1zM771 700h1v1h-1zM772 700h1v1h-1zM773 700h1v1h-1zM774 700h1v1h-1zM775 699h1v1h-1zM776 699h1v1h-1zM777 699h1v1h-1zM778 700h1v1h-1zM779 700h1v1h-1zM780 700h1v2h-1zM781 702h1v2h-1zM782 704h1v3h-1zM783 707h1v2h-1zM784 709h1v2h-1zM785 709h1v1h-1zM786 708h1v1h-1zM787 708h1v1h-1zM788 707h1v1h-1zM789 708h1v2h-1zM790 710h1v2h-1zM791 712h1v2h-1zM792 714h1v1h-1zM793 715h1v1h-1zM794 716h1v2h-1zM795 718h1v1h-1zM796 719h1v1h-1zM797 718h1v1h-1zM798 717h1v1h-1zM799 717h1v1h-1zM800 716h1v1h-1zM801 715h1v1h-1zM802 714h1v1h-1zM803 713h1v1h-1zM804 712h1v1h-1zM805 712h1v1h-1zM806 711h1v1h-1zM807 711h1v1h-1zM808 710h1v1h-1zM809 710h1v4h-1zM810 714h1v6h-1zM811 720h1v6h-1zM812 726h1v4h-1zM813 730h1v2h-1zM814 732h1v2h-1zM815 734h1v2h-1zM816 736h1v1h-1zM817 737h1v2h-1zM818 739h1v1h-1zM819 740h1v2h-1zM820 742h1v2h-1zM821 744h1v2h-1zM822 746h1v3h-1zM823 749h1v2h-1zM824 751h1v2h-1zM825 749h1v2h-1zM826 746h1v3h-1zM827 744h1v2h-1zM828 742h1v2h-1zM829 742h1v1h-1zM830 743h1v1h-1zM831 743h1v1h-1zM832 743h1v1h-1zM833 742h1v1h-1zM834 740h1v2h-1zM835 739h1v1h-1zM836 738h1v1h-1zM837 737h1v1h-1zM838 737h1v1h-1zM839 736h1v1h-1zM840 736h1v1h-1zM841 736h1v1h-1zM842 737h1v1h-1zM843 737h1v1h-1zM844 737h1v1h-1zM845 738h1v1h-1zM846 739h1v2h-1zM847 741h1v1h-1zM848 742h1v1h-1zM849 740h1v2h-1zM850 738h1v2h-1zM851 736h1v2h-1zM852 735h1v1h-1zM853 736h1v1h-1zM854 737h1v2h-1zM855 739h1v1h-1zM856 740h1v2h-1zM857 742h1v3h-1zM858 745h1v2h-1zM859 747h1v3h-1zM860 750h1v2h-1zM861 752h1v1h-1zM862 752h1v1h-1zM863 753h1v1h-1zM864 753h1v1h-1zM865 754h1v1h-1zM866 753h1v1h-1zM867 753h1v1h-1zM868 752h1v1h-1zM869 752h1v1h-1zM870 750h1v2h-1zM871 748h1v2h-1zM872 746h1v2h-1zM873 744h1v2h-1zM874 743h1v1h-1zM875 741h1v2h-1zM876 739h1v2h-1zM877 738h1v1h-1zM878 737h1v1h-1zM879 736h1v1h-1zM880 735h1v1h-1zM881 736h1v1h-1zM882 737h1v1h-1zM883 737h1v1h-1zM884 738h1v2h-1zM885 740h1v3h-1zM886 743h1v3h-1zM887 746h1v3h-1zM888 749h1v2h-1zM889 750h1v1h-1zM890 751h1v1h-1zM891 751h1v1h-1zM892 751h1v2h-1zM893 753h1v2h-1zM894 755h1v2h-1zM895 757h1v2h-1zM896 759h1v2h-1zM897 760h1v1h-1zM898 761h1v1h-1zM899 761h1v1h-1zM900 761h1v1h-1zM901 760h1v1h-1zM902 758h1v2h-1zM903 757h1v1h-1zM904 756h1v1h-1zM905 757h1v1h-1zM906 758h1v2h-1zM907 760h1v1h-1zM908 761h1v1h-1zM909 762h1v1h-1zM910 763h1v1h-1zM911 764h1v1h-1zM912 765h1v1h-1zM913 763h1v2h-1zM914 761h1v2h-1zM915 759h1v2h-1zM916 757h1v2h-1zM917 756h1v1h-1zM918 756h1v1h-1zM919 757h1v1h-1zM920 757h1v1h-1zM921 755h1v2h-1zM922 753h1v2h-1zM923 751h1v2h-1zM924 750h1v1h-1zM925 748h1v2h-1zM926 746h1v2h-1zM927 744h1v2h-1zM928 743h1v1h-1zM929 744h1v1h-1zM930 744h1v1h-1zM931 745h1v1h-1zM932 744h1v2h-1zM933 742h1v2h-1zM934 740h1v2h-1zM935 738h1v2h-1zM936 736h1v2h-1zM937 734h1v2h-1zM938 734h1v1h-1zM939 734h1v1h-1zM940 734h1v1h-1zM941 734h1v1h-1zM942 734h1v1h-1zM943 735h1v1h-1zM944 735h1v1h-1zM945 734h1v1h-1zM946 733h1v1h-1zM947 732h1v1h-1zM948 731h1v2h-1zM949 733h1v3h-1zM950 736h1v3h-1zM951 739h1v3h-1zM952 742h1v3h-1zM953 745h1v3h-1zM954 748h1v4h-1zM955 752h1v4h-1zM956 756h1v3h-1zM957 759h1v1h-1zM958 760h1v1h-1zM959 760h1v1h-1zM960 761h1v1h-1zM961 762h1v1h-1zM962 762h1v1h-1zM963 763h1v1h-1zM964 763h1v1h-1zM965 764h1v1h-1zM966 764h1v1h-1zM967 765h1v1h-1zM968 765h1v1h-1zM969 764h1v1h-1zM970 762h1v2h-1zM971 761h1v1h-1zM972 760h1v1h-1zM973 759h1v1h-1zM974 758h1v1h-1zM975 756h1v2h-1zM976 755h1v1h-1zM977 754h1v1h-1zM978 755h1v1h-1zM979 755h1v1h-1zM980 756h1v1h-1zM981 756h1v1h-1zM982 756h1v1h-1zM983 756h1v1h-1zM984 756h1v1h-1zM985 754h1v2h-1zM986 752h1v2h-1zM987 750h1v2h-1zM988 748h1v2h-1zM989 744h1v4h-1zM990 741h1v3h-1zM991 737h1v4h-1zM992 735h1v2h-1zM993 736h1v1h-1zM994 736h1v1h-1zM995 737h1v1h-1zM996 737h1v1h-1zM997 737h1v1h-1zM998 737h1v1h-1zM999 737h1v1h-1zM1000 737h1v1h-1zM1001 737h1v1h-1zM1002 737h1v1h-1zM1003 738h1v1h-1zM1004 737h1v2h-1zM1005 735h1v2h-1zM1006 732h1v3h-1zM1007 730h1v2h-1zM1008 728h1v2h-1zM1009 728h1v1h-1zM1010 729h1v1h-1zM1011 729h1v1h-1zM1012 729h1v1h-1zM1013 728h1v1h-1zM1014 726h1v2h-1zM1015 725h1v1h-1zM1016 724h1v1h-1zM1017 724h1v1h-1zM1018 725h1v1h-1zM1019 725h1v1h-1zM1020 725h1v2h-1zM1021 727h1v2h-1zM1022 729h1v3h-1zM1023 732h1v2h-1zM1024 734h1v2h-1zM1025 734h1v1h-1zM1026 733h1v1h-1zM1027 732h1v1h-1zM1028 731h1v2h-1zM1029 733h1v2h-1zM1030 735h1v2h-1zM1031 737h1v2h-1zM1032 739h1v2h-1zM1033 740h1v1h-1zM1034 740h1v1h-1zM1035 740h1v1h-1zM1036 740h1v1h-1zM1037 740h1v1h-1zM1038 740h1v1h-1zM1039 740h1v1h-1zM1040 740h1v1h-1zM1041 738h1v2h-1zM1042 736h1v2h-1zM1043 734h1v2h-1zM1044 733h1v1h-1zM1045 734h1v1h-1zM1046 734h1v1h-1zM1047 735h1v1h-1zM1048 735h1v1h-1zM1049 736h1v2h-1zM1050 738h1v2h-1zM1051 740h1v2h-1zM1052 742h1v1h-1zM1053 742h1v1h-1zM1054 742h1v1h-1zM1055 742h1v1h-1zM1056 742h1v1h-1zM1057 742h1v1h-1zM1058 741h1v1h-1zM1059 741h1v1h-1zM1060 741h1v1h-1zM1061 741h1v1h-1zM1062 742h1v1h-1zM1063 742h1v1h-1zM1064 742h1v1h-1zM1065 740h1v2h-1zM1066 739h1v1h-1zM1067 737h1v2h-1zM1068 736h1v1h-1zM1069 736h1v1h-1zM1070 736h1v1h-1zM1071 737h1v1h-1zM1072 737h1v1h-1zM1073 736h1v2h-1zM1074 733h1v3h-1zM1075 731h1v2h-1zM1076 728h1v3h-1zM1077 726h1v2h-1zM1078 724h1v2h-1zM1079 723h1v1h-1zM1080 721h1v2h-1zM1081 720h1v1h-1zM1082 721h1v1h-1zM1083 721h1v1h-1zM1084 722h1v1h-1zM1085 723h1v1h-1zM1086 724h1v1h-1zM1087 725h1v1h-1zM1088 726h1v1h-1zM1089 727h1v1h-1zM1090 728h1v1h-1zM1091 729h1v1h-1zM1092 730h1v1h-1zM1093 728h1v2h-1zM1094 727h1v1h-1zM1095 725h1v2h-1zM1096 723h1v2h-1zM1097 722h1v2h-1zM1098 724h1v2h-1zM1099 726h1v2h-1zM1100 728h1v2h-1zM1101 730h1v3h-1zM1102 733h1v4h-1zM1103 737h1v4h-1zM1104 741h1v3h-1zM1105 743h1v1h-1zM1106 744h1v1h-1zM1107 744h1v1h-1zM1108 744h1v2h-1zM1109 746h1v3h-1zM1110 749h1v2h-1zM1111 751h1v3h-1zM1112 754h1v3h-1zM1113 757h1v2h-1zM1114 754h1v3h-1zM1115 752h1v2h-1zM1116 749h1v3h-1zM1117 747h1v2h-1zM1118 748h1v1h-1zM1119 748h1v1h-1zM1120 749h1v1h-1zM1121 749h1v1h-1zM1122 749h1v1h-1zM1123 749h1v1h-1zM1124 749h1v1h-1zM1125 749h1v1h-1zM1126 750h1v1h-1zM1127 750h1v1h-1zM1128 750h1v1h-1z" fill="#1e90ff"/>
</g>
<rect x="4" y="799" width="1" height="3" fill="#000"/>
<text x="3.5" y="811" font-size="10" fill="#000" textLength="51.5" lengthAdjust="spacingAndGlyphs">14 Sep 2018</text>
<rect x="68" y="799" width="1" height="3" fill="#000"/>
<text x="67.5" y="811" font-size="10" fill="#000" textLength="45.5" lengthAdjust="spacingAndGlyphs">3 Oct 2018</text>
<rect x="132" y="799" width="1" height="3" fill="#000"/>
<text x="131.5" y="811" font-size="10" fill="#000" textLength="50.5" lengthAdjust="spacingAndGlyphs">22 Oct 2018</text>
<rect x="196" y="799" width="1" height="3" fill="#000"/>
<text x="195.5" y="811" font-size="10" fill="#000" textLength="48" lengthAdjust="spacingAndGlyphs">9 Nov 2018</text>
<rect x="260" y="799" width="1" height="3" fill="#000"/>
<text x="259.5" y="811" font-size="10" fill="#000" textLength="53" lengthAdjust="spacingAndGlyphs">28 Nov 2018</text>
<rect x="324" y="799" width="1" height="3" fill="#000"/>
<text x="323.5" y="811" font-size="10" fill="#000" textLength="51" lengthAdjust="spacingAndGlyphs">17 Dec 2018</text>
<rect x="388" y="799" width="1" height="3" fill="#000"/>
<text x="387.5" y="811" font-size="10" fill="#000" textLength="43.5" lengthAdjust="spacingAndGlyphs">4 Jan 2019</text>
<rect x="452" y="799" width="1" height="3" fill="#000"/>
<text x="451.5" y="811" font-size="10" fill="#000" textLength="49" lengthAdjust="spacingAndGlyphs">23 Jan 2019</text>
<rect x="516" y="799" width="1" height="3" fill="#000"/>
<text x="515.5" y="811" font-size="10" fill="#000" textLength="51" lengthAdjust="spacingAndGlyphs">11 Feb 2019</text>
<rect x="580" y="799" width="1" height="3" fill="#000"/>
<text x="579.5" y="811" font-size="10" fill="#000" textLength="45.5" lengthAdjust="spacingAndGlyphs">1 Mar 2019</text>
<rect x="644" y="799" width="1" height="3" fill="#000"/>
<text x="643.5" y="811" font-size="10" fill="#000" textLength="51" lengthAdjust="spacingAndGlyphs">20 Mar 2019</text>
<rect x="708" y="799" width="1" height="3" fill="#000"/>
<text x="707.5" y="811" font-size="10" fill="#000" textLength="45.5" lengthAdjust="spacingAndGlyphs">8 Apr 2019</text>
<rect x="772" y="799" width="1" height="3" fill="#000"/>
<text x="771.5" y="811" font-size="10" fill="#000" textLength="50.5" lengthAdjust="spacingAndGlyphs">28 Apr 2019</text>
<rect x="836" y="799" width="1" height="3" fill="#000"/>
<text x="835.5" y="811" font-size="10" fill="#000" textLength="54.5" lengthAdjust="spacingAndGlyphs">16 May 2019</text>
<rect x="900" y="799" width="1" height="3" fill="#000"/>
<text x="899.5" y="811" font-size="10" fill="#000" textLength="44.5" lengthAdjust="spacingAndGlyphs">4 Jun 2019</text>
<rect x="964" y="799" width="1" height="3" fill="#000"/>
<text x="963.5" y="811" font-size="10" fill="#000" textLength="49.5" lengthAdjust="spacingAndGlyphs">23 Jun 2019</text>
<rect x="1028" y="799" width="1" height="3" fill="#000"/>
<text x="1027.5" y="811" font-size="10" fill="#000" textLength="46" lengthAdjust="spacingAndGlyphs">11 Jul 2019</text>
<rect x="1092" y="799" width="1" height="3" fill="#000"/>
<text x="1091.5" y="811" font-size="10" fill="#000" textLength="46" lengthAdjust="spacingAndGlyphs">30 Jul 2019</text>
<rect x="0" y="819" width="1463" height="1" fill="#e6e6e6"/>
<rect x="0" y="820" width="1463" height="1" fill="#fff"/>
<rect x="0" y="821" width="1463" height="1" fill="#000"/>
<rect x="0" y="822" width="1463" height="1" fill="#fff"/>
<rect x="0" y="823" width="1463" height="17" fill="#f0f0f0"/>
<rect x="0" y="822" width="1" height="18" fill="#696969"/>
<rect x="0" y="840" width="1463" height="2" fill="#fff"/>
<rect x="0" y="842" width="1463" height="3" fill="#f0f0f0"/>
<rect x="0" y="845" width="1463" height="1" fill="#a0a0a0"/>
<rect x="0" y="846" width="1463" height="2" fill="#fff"/>
<text x="16.5" y="836" font-size="12.5" fill="#7a7a7a" textLength="84.5" lengthAdjust="spacingAndGlyphs">EURUSD-,Daily</text>
<text x="123" y="836" font-size="12.5" fill="#7a7a7a" textLength="87" lengthAdjust="spacingAndGlyphs">AUDUSD-,Daily</text>
<rect x="221" y="821" width="108" height="19" fill="#000"/><rect x="222" y="821" width="106" height="18" fill="#fff"/>
<text x="233.7" y="836" font-size="12.5" fill="#000" textLength="83" lengthAdjust="spacingAndGlyphs">USDCHF-,Daily</text>
<text x="340.5" y="836" font-size="12.5" fill="#7a7a7a" textLength="85" lengthAdjust="spacingAndGlyphs">USDCAD-,Daily</text>
<text x="449.6" y="836" font-size="12.5" fill="#7a7a7a" textLength="87.2" lengthAdjust="spacingAndGlyphs">USDCNH-,Daily</text>
<text x="560" y="836" font-size="12.5" fill="#7a7a7a" textLength="97" lengthAdjust="spacingAndGlyphs">EURCHF-,Weekly</text>
<text x="681.2" y="836" font-size="12.5" fill="#7a7a7a" textLength="99.6" lengthAdjust="spacingAndGlyphs">XAUUSD-,Weekly</text>
<text x="803.9" y="836" font-size="12.5" fill="#7a7a7a" textLength="72.8" lengthAdjust="spacingAndGlyphs">GBPUSD-,H1</text>
<text x="900.5" y="836" font-size="12.5" fill="#7a7a7a" textLength="56.2" lengthAdjust="spacingAndGlyphs">UKOil-,H4</text>
<text x="979.2" y="836" font-size="12.5" fill="#7a7a7a" textLength="82.8" lengthAdjust="spacingAndGlyphs">USDX-,Weekly</text>
<rect x="113" y="825" width="1" height="13" fill="#808080"/>
<rect x="437" y="825" width="1" height="13" fill="#808080"/>
<rect x="549" y="825" width="1" height="13" fill="#808080"/>
<rect x="669" y="825" width="1" height="13" fill="#808080"/>
<rect x="793" y="825" width="1" height="13" fill="#808080"/>
<rect x="889" y="825" width="1" height="13" fill="#808080"/>
<rect x="970" y="825" width="1" height="13" fill="#808080"/>
<rect x="1073" y="825" width="1" height="13" fill="#808080"/>
<rect x="1435" y="830" width="1" height="1" fill="#909090"/>
<rect x="1457" y="830" width="1" height="1" fill="#909090"/>
<rect x="1436" y="829" width="1" height="3" fill="#909090"/>
<rect x="1456" y="829" width="1" height="3" fill="#909090"/>
<rect x="1437" y="828" width="1" height="5" fill="#909090"/>
<rect x="1455" y="828" width="1" height="5" fill="#909090"/>
<rect x="1438" y="827" width="1" height="7" fill="#909090"/>
<rect x="1454" y="827" width="1" height="7" fill="#909090"/>
</svg>
</body></html>
